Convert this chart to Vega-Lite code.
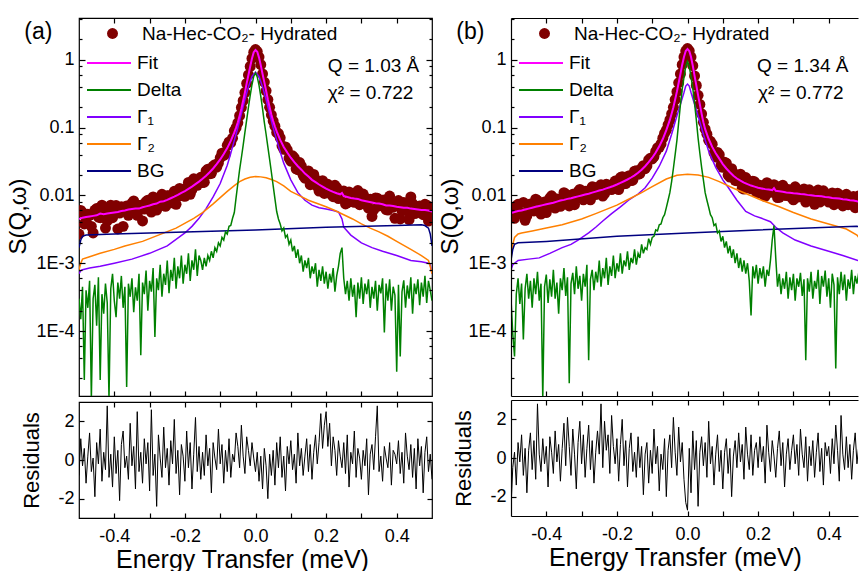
{
"$schema": "https://vega.github.io/schema/vega-lite/v6.json",
"padding": {"left": 6, "top": 16, "right": 0, "bottom": 0},
"config": {
 "font": "Liberation Sans",
 "view": {"stroke": "black", "strokeWidth": 1.2},
 "axis": {"grid": false, "domain": false, "labelFont": "Liberation Sans", "labelFontSize": 18, "labelColor": "black", "titleFont": "Liberation Sans", "titleFontWeight": "normal", "titleColor": "black", "tickColor": "black", "tickWidth": 1.2, "domainColor": "black", "domainWidth": 1.2, "labelPadding": 5},
 "legend": {"labelFont": "Liberation Sans", "labelFontSize": 19, "labelColor": "black", "labelLimit": 500, "padding": 0, "offset": 0}
},
"datasets": {
"pts": [
{"p":"a","x":-0.5,"y":0.0027},{"p":"a","x":-0.49,"y":0.0056},{"p":"a","x":-0.48,"y":0.0041},{"p":"a","x":-0.47,"y":0.0051},{"p":"a","x":-0.46,"y":0.0028},{"p":"a","x":-0.45,"y":0.0064},{"p":"a","x":-0.44,"y":0.0047},{"p":"a","x":-0.43,"y":0.0058},{"p":"a","x":-0.42,"y":0.0042},{"p":"a","x":-0.41,"y":0.0072},
{"p":"a","x":-0.4,"y":0.0053},{"p":"a","x":-0.39,"y":0.0032},{"p":"a","x":-0.38,"y":0.0068},{"p":"a","x":-0.37,"y":0.006},{"p":"a","x":-0.36,"y":0.0051},{"p":"a","x":-0.35,"y":0.0077},{"p":"a","x":-0.34,"y":0.0056},{"p":"a","x":-0.33,"y":0.0071},{"p":"a","x":-0.32,"y":0.0042},{"p":"a","x":-0.31,"y":0.0081},
{"p":"a","x":-0.3,"y":0.0065},{"p":"a","x":-0.29,"y":0.0095},{"p":"a","x":-0.28,"y":0.0061},{"p":"a","x":-0.27,"y":0.0083},{"p":"a","x":-0.26,"y":0.0074},{"p":"a","x":-0.25,"y":0.0099},{"p":"a","x":-0.24,"y":0.0078},{"p":"a","x":-0.23,"y":0.0115},{"p":"a","x":-0.22,"y":0.0097},{"p":"a","x":-0.21,"y":0.012},
{"p":"a","x":-0.2,"y":0.0097},{"p":"a","x":-0.19,"y":0.0156},{"p":"a","x":-0.18,"y":0.0122},{"p":"a","x":-0.17,"y":0.0165},{"p":"a","x":-0.16,"y":0.016},{"p":"a","x":-0.15,"y":0.0155},{"p":"a","x":-0.14,"y":0.023},{"p":"a","x":-0.13,"y":0.0209},{"p":"a","x":-0.12,"y":0.027},{"p":"a","x":-0.11,"y":0.0261},
{"p":"a","x":-0.1,"y":0.0357},{"p":"a","x":-0.09,"y":0.039},{"p":"a","x":-0.08,"y":0.055},{"p":"a","x":-0.07,"y":0.06},{"p":"a","x":-0.06,"y":0.09},{"p":"a","x":-0.055,"y":0.1},{"p":"a","x":-0.05,"y":0.118},{"p":"a","x":-0.045,"y":0.15},{"p":"a","x":-0.04,"y":0.198},{"p":"a","x":-0.035,"y":0.25},
{"p":"a","x":-0.03,"y":0.33},{"p":"a","x":-0.025,"y":0.45},{"p":"a","x":-0.02,"y":0.6},{"p":"a","x":-0.015,"y":0.8},{"p":"a","x":-0.01,"y":1.05},{"p":"a","x":-0.005,"y":1.3},{"p":"a","x":0,"y":1.42},{"p":"a","x":0.005,"y":1.33},{"p":"a","x":0.01,"y":1.1},{"p":"a","x":0.015,"y":0.85},
{"p":"a","x":0.02,"y":0.62},{"p":"a","x":0.025,"y":0.47},{"p":"a","x":0.03,"y":0.35},{"p":"a","x":0.035,"y":0.26},{"p":"a","x":0.04,"y":0.2},{"p":"a","x":0.045,"y":0.155},{"p":"a","x":0.05,"y":0.125},{"p":"a","x":0.055,"y":0.105},{"p":"a","x":0.06,"y":0.085},{"p":"a","x":0.07,"y":0.071},
{"p":"a","x":0.08,"y":0.048},{"p":"a","x":0.09,"y":0.047},{"p":"a","x":0.1,"y":0.032},{"p":"a","x":0.11,"y":0.036},{"p":"a","x":0.12,"y":0.024},{"p":"a","x":0.13,"y":0.027},{"p":"a","x":0.14,"y":0.018},{"p":"a","x":0.15,"y":0.023},{"p":"a","x":0.16,"y":0.0156},{"p":"a","x":0.17,"y":0.0173},
{"p":"a","x":0.18,"y":0.0116},{"p":"a","x":0.19,"y":0.0165},{"p":"a","x":0.2,"y":0.0113},{"p":"a","x":0.21,"y":0.0137},{"p":"a","x":0.22,"y":0.0096},{"p":"a","x":0.23,"y":0.013},{"p":"a","x":0.24,"y":0.0099},{"p":"a","x":0.25,"y":0.0116},{"p":"a","x":0.26,"y":0.0078},{"p":"a","x":0.27,"y":0.0101},
{"p":"a","x":0.28,"y":0.0079},{"p":"a","x":0.29,"y":0.0118},{"p":"a","x":0.3,"y":0.0077},{"p":"a","x":0.31,"y":0.0093},{"p":"a","x":0.32,"y":0.0065},{"p":"a","x":0.33,"y":0.0049},{"p":"a","x":0.34,"y":0.0092},{"p":"a","x":0.35,"y":0.007},{"p":"a","x":0.36,"y":0.0085},{"p":"a","x":0.37,"y":0.0062},
{"p":"a","x":0.38,"y":0.0098},{"p":"a","x":0.39,"y":0.0067},{"p":"a","x":0.4,"y":0.0075},{"p":"a","x":0.41,"y":0.0045},{"p":"a","x":0.42,"y":0.0079},{"p":"a","x":0.43,"y":0.0059},{"p":"a","x":0.44,"y":0.0095},{"p":"a","x":0.45,"y":0.0054},{"p":"a","x":0.46,"y":0.0068},{"p":"a","x":0.47,"y":0.0058},
{"p":"a","x":0.48,"y":0.0074},{"p":"a","x":0.49,"y":0.0042},{"p":"a","x":0.5,"y":0.0067},
{"p":"a","x":-0.495,"y":0.006},{"p":"a","x":-0.485,"y":0.0038},{"p":"a","x":-0.475,"y":0.0053},{"p":"a","x":-0.465,"y":0.0035},{"p":"a","x":-0.455,"y":0.0061},{"p":"a","x":-0.445,"y":0.0048},{"p":"a","x":-0.435,"y":0.0072},{"p":"a","x":-0.425,"y":0.0033},{"p":"a","x":-0.415,"y":0.0057},{"p":"a","x":-0.405,"y":0.0047},
{"p":"a","x":-0.395,"y":0.0071},{"p":"a","x":-0.385,"y":0.0055},{"p":"a","x":-0.375,"y":0.0035},{"p":"a","x":-0.365,"y":0.007},{"p":"a","x":-0.355,"y":0.0055},{"p":"a","x":-0.345,"y":0.0083},{"p":"a","x":-0.335,"y":0.0051},{"p":"a","x":-0.325,"y":0.0072},{"p":"a","x":-0.315,"y":0.0063},{"p":"a","x":-0.305,"y":0.0085},
{"p":"a","x":-0.295,"y":0.0057},{"p":"a","x":-0.285,"y":0.0079},{"p":"a","x":-0.275,"y":0.007},{"p":"a","x":-0.265,"y":0.0104},{"p":"a","x":-0.255,"y":0.0069},{"p":"a","x":-0.245,"y":0.0099},{"p":"a","x":-0.235,"y":0.0089},{"p":"a","x":-0.225,"y":0.0074},{"p":"a","x":-0.215,"y":0.0127},{"p":"a","x":-0.205,"y":0.0099},
{"p":"a","x":-0.195,"y":0.013},{"p":"a","x":-0.185,"y":0.0104},{"p":"a","x":-0.175,"y":0.0176},{"p":"a","x":-0.165,"y":0.0141},{"p":"a","x":-0.155,"y":0.0185},{"p":"a","x":-0.145,"y":0.0157},{"p":"a","x":-0.135,"y":0.0244},{"p":"a","x":-0.125,"y":0.0212},{"p":"a","x":-0.115,"y":0.0284},{"p":"a","x":-0.105,"y":0.03},
{"p":"a","x":-0.095,"y":0.042},{"p":"a","x":-0.085,"y":0.041},{"p":"a","x":-0.075,"y":0.0616},{"p":"a","x":-0.065,"y":0.07},
{"p":"a","x":0.065,"y":0.082},{"p":"a","x":0.075,"y":0.054},{"p":"a","x":0.085,"y":0.052},{"p":"a","x":0.095,"y":0.0356},{"p":"a","x":0.105,"y":0.0385},{"p":"a","x":0.115,"y":0.0247},{"p":"a","x":0.125,"y":0.0306},{"p":"a","x":0.135,"y":0.0198},{"p":"a","x":0.145,"y":0.022},{"p":"a","x":0.155,"y":0.0144},
{"p":"a","x":0.165,"y":0.0204},{"p":"a","x":0.175,"y":0.0136},{"p":"a","x":0.185,"y":0.0161},{"p":"a","x":0.195,"y":0.0107},{"p":"a","x":0.205,"y":0.0146},{"p":"a","x":0.215,"y":0.0104},{"p":"a","x":0.225,"y":0.0141},{"p":"a","x":0.235,"y":0.009},{"p":"a","x":0.245,"y":0.0113},{"p":"a","x":0.255,"y":0.0075},
{"p":"a","x":0.265,"y":0.0113},{"p":"a","x":0.275,"y":0.0084},{"p":"a","x":0.285,"y":0.0102},{"p":"a","x":0.295,"y":0.0073},{"p":"a","x":0.305,"y":0.0105},{"p":"a","x":0.315,"y":0.0074},{"p":"a","x":0.325,"y":0.0088},{"p":"a","x":0.335,"y":0.0062},{"p":"a","x":0.345,"y":0.0091},{"p":"a","x":0.355,"y":0.0071},
{"p":"a","x":0.365,"y":0.0086},{"p":"a","x":0.375,"y":0.0061},{"p":"a","x":0.385,"y":0.0078},{"p":"a","x":0.395,"y":0.0046},{"p":"a","x":0.405,"y":0.0084},{"p":"a","x":0.415,"y":0.0059},{"p":"a","x":0.425,"y":0.0072},{"p":"a","x":0.435,"y":0.0044},{"p":"a","x":0.445,"y":0.0076},{"p":"a","x":0.455,"y":0.0055},
{"p":"a","x":0.465,"y":0.007},{"p":"a","x":0.475,"y":0.0052},{"p":"a","x":0.485,"y":0.0072},{"p":"a","x":0.495,"y":0.0053},
{"p":"b","x":-0.5,"y":0.0063},{"p":"b","x":-0.49,"y":0.0046},{"p":"b","x":-0.48,"y":0.0074},{"p":"b","x":-0.47,"y":0.0054},{"p":"b","x":-0.46,"y":0.0043},{"p":"b","x":-0.45,"y":0.007},{"p":"b","x":-0.44,"y":0.0063},{"p":"b","x":-0.43,"y":0.0088},{"p":"b","x":-0.42,"y":0.006},{"p":"b","x":-0.41,"y":0.0076},
{"p":"b","x":-0.4,"y":0.0056},{"p":"b","x":-0.39,"y":0.0091},{"p":"b","x":-0.38,"y":0.0072},{"p":"b","x":-0.37,"y":0.0089},{"p":"b","x":-0.36,"y":0.0069},{"p":"b","x":-0.35,"y":0.011},{"p":"b","x":-0.34,"y":0.008},{"p":"b","x":-0.33,"y":0.0091},{"p":"b","x":-0.32,"y":0.0073},{"p":"b","x":-0.31,"y":0.0114},
{"p":"b","x":-0.3,"y":0.0095},{"p":"b","x":-0.29,"y":0.0115},{"p":"b","x":-0.28,"y":0.009},{"p":"b","x":-0.27,"y":0.0134},{"p":"b","x":-0.26,"y":0.0103},{"p":"b","x":-0.25,"y":0.0124},{"p":"b","x":-0.24,"y":0.0098},{"p":"b","x":-0.23,"y":0.0146},{"p":"b","x":-0.22,"y":0.0125},{"p":"b","x":-0.21,"y":0.0149},
{"p":"b","x":-0.2,"y":0.0128},{"p":"b","x":-0.19,"y":0.0184},{"p":"b","x":-0.18,"y":0.0149},{"p":"b","x":-0.17,"y":0.0189},{"p":"b","x":-0.16,"y":0.0166},{"p":"b","x":-0.15,"y":0.0228},{"p":"b","x":-0.14,"y":0.0205},{"p":"b","x":-0.13,"y":0.0252},{"p":"b","x":-0.12,"y":0.0248},{"p":"b","x":-0.11,"y":0.0335},
{"p":"b","x":-0.1,"y":0.0346},{"p":"b","x":-0.09,"y":0.0447},{"p":"b","x":-0.08,"y":0.0514},{"p":"b","x":-0.07,"y":0.07},{"p":"b","x":-0.06,"y":0.092},{"p":"b","x":-0.055,"y":0.11},{"p":"b","x":-0.05,"y":0.13},{"p":"b","x":-0.045,"y":0.16},{"p":"b","x":-0.04,"y":0.2},{"p":"b","x":-0.035,"y":0.26},
{"p":"b","x":-0.03,"y":0.34},{"p":"b","x":-0.025,"y":0.46},{"p":"b","x":-0.02,"y":0.62},{"p":"b","x":-0.015,"y":0.85},{"p":"b","x":-0.01,"y":1.1},{"p":"b","x":-0.005,"y":1.35},{"p":"b","x":0,"y":1.47},{"p":"b","x":0.005,"y":1.36},{"p":"b","x":0.01,"y":1.1},{"p":"b","x":0.015,"y":0.82},
{"p":"b","x":0.02,"y":0.58},{"p":"b","x":0.025,"y":0.42},{"p":"b","x":0.03,"y":0.3},{"p":"b","x":0.035,"y":0.22},{"p":"b","x":0.04,"y":0.16},{"p":"b","x":0.045,"y":0.12},{"p":"b","x":0.05,"y":0.095},{"p":"b","x":0.055,"y":0.08},{"p":"b","x":0.06,"y":0.065},{"p":"b","x":0.07,"y":0.057},
{"p":"b","x":0.08,"y":0.037},{"p":"b","x":0.09,"y":0.04},{"p":"b","x":0.1,"y":0.026},{"p":"b","x":0.11,"y":0.03},{"p":"b","x":0.12,"y":0.0187},{"p":"b","x":0.13,"y":0.0215},{"p":"b","x":0.14,"y":0.0164},{"p":"b","x":0.15,"y":0.0206},{"p":"b","x":0.16,"y":0.0124},{"p":"b","x":0.17,"y":0.0165},
{"p":"b","x":0.18,"y":0.0126},{"p":"b","x":0.19,"y":0.0159},{"p":"b","x":0.2,"y":0.011},{"p":"b","x":0.21,"y":0.0133},{"p":"b","x":0.22,"y":0.0097},{"p":"b","x":0.23,"y":0.0146},{"p":"b","x":0.24,"y":0.0114},{"p":"b","x":0.25,"y":0.0129},{"p":"b","x":0.26,"y":0.0094},{"p":"b","x":0.27,"y":0.0141},
{"p":"b","x":0.28,"y":0.01},{"p":"b","x":0.29,"y":0.0119},{"p":"b","x":0.3,"y":0.0086},{"p":"b","x":0.31,"y":0.0123},{"p":"b","x":0.32,"y":0.0097},{"p":"b","x":0.33,"y":0.0125},{"p":"b","x":0.34,"y":0.0088},{"p":"b","x":0.35,"y":0.0111},{"p":"b","x":0.36,"y":0.0074},{"p":"b","x":0.37,"y":0.012},
{"p":"b","x":0.38,"y":0.0087},{"p":"b","x":0.39,"y":0.01},{"p":"b","x":0.4,"y":0.008},{"p":"b","x":0.41,"y":0.0109},{"p":"b","x":0.42,"y":0.0086},{"p":"b","x":0.43,"y":0.0099},{"p":"b","x":0.44,"y":0.007},{"p":"b","x":0.45,"y":0.0104},{"p":"b","x":0.46,"y":0.0077},{"p":"b","x":0.47,"y":0.0097},
{"p":"b","x":0.48,"y":0.007},{"p":"b","x":0.49,"y":0.0089},{"p":"b","x":0.5,"y":0.0072},
{"p":"b","x":-0.495,"y":0.0048},{"p":"b","x":-0.485,"y":0.007},{"p":"b","x":-0.475,"y":0.0057},{"p":"b","x":-0.465,"y":0.0079},{"p":"b","x":-0.455,"y":0.005},{"p":"b","x":-0.445,"y":0.0075},{"p":"b","x":-0.435,"y":0.0059},{"p":"b","x":-0.425,"y":0.0084},{"p":"b","x":-0.415,"y":0.0053},{"p":"b","x":-0.405,"y":0.008},
{"p":"b","x":-0.395,"y":0.0068},{"p":"b","x":-0.385,"y":0.0099},{"p":"b","x":-0.375,"y":0.0065},{"p":"b","x":-0.365,"y":0.0087},{"p":"b","x":-0.355,"y":0.0078},{"p":"b","x":-0.345,"y":0.0105},{"p":"b","x":-0.335,"y":0.007},{"p":"b","x":-0.325,"y":0.0104},{"p":"b","x":-0.315,"y":0.0091},{"p":"b","x":-0.305,"y":0.0123},
{"p":"b","x":-0.295,"y":0.0086},{"p":"b","x":-0.285,"y":0.0115},{"p":"b","x":-0.275,"y":0.0086},{"p":"b","x":-0.265,"y":0.0132},{"p":"b","x":-0.255,"y":0.0107},{"p":"b","x":-0.245,"y":0.0144},{"p":"b","x":-0.235,"y":0.0106},{"p":"b","x":-0.225,"y":0.0142},{"p":"b","x":-0.215,"y":0.0122},{"p":"b","x":-0.205,"y":0.0163},
{"p":"b","x":-0.195,"y":0.0122},{"p":"b","x":-0.185,"y":0.0189},{"p":"b","x":-0.175,"y":0.015},{"p":"b","x":-0.165,"y":0.0196},{"p":"b","x":-0.155,"y":0.0168},{"p":"b","x":-0.145,"y":0.0232},{"p":"b","x":-0.135,"y":0.021},{"p":"b","x":-0.125,"y":0.0275},{"p":"b","x":-0.115,"y":0.0273},{"p":"b","x":-0.105,"y":0.0355},
{"p":"b","x":-0.095,"y":0.0375},{"p":"b","x":-0.085,"y":0.0504},{"p":"b","x":-0.075,"y":0.0576},{"p":"b","x":-0.065,"y":0.0824},
{"p":"b","x":0.065,"y":0.063},{"p":"b","x":0.075,"y":0.0423},{"p":"b","x":0.085,"y":0.0431},{"p":"b","x":0.095,"y":0.0282},{"p":"b","x":0.105,"y":0.031},{"p":"b","x":0.115,"y":0.02},{"p":"b","x":0.125,"y":0.0248},{"p":"b","x":0.135,"y":0.0167},{"p":"b","x":0.145,"y":0.0188},{"p":"b","x":0.155,"y":0.0128},
{"p":"b","x":0.165,"y":0.0184},{"p":"b","x":0.175,"y":0.0129},{"p":"b","x":0.185,"y":0.0162},{"p":"b","x":0.195,"y":0.0112},{"p":"b","x":0.205,"y":0.0141},{"p":"b","x":0.215,"y":0.0103},{"p":"b","x":0.225,"y":0.0154},{"p":"b","x":0.235,"y":0.0111},{"p":"b","x":0.245,"y":0.0144},{"p":"b","x":0.255,"y":0.0093},
{"p":"b","x":0.265,"y":0.0137},{"p":"b","x":0.275,"y":0.0101},{"p":"b","x":0.285,"y":0.0123},{"p":"b","x":0.295,"y":0.0093},{"p":"b","x":0.305,"y":0.0134},{"p":"b","x":0.315,"y":0.0095},{"p":"b","x":0.325,"y":0.0114},{"p":"b","x":0.335,"y":0.008},{"p":"b","x":0.345,"y":0.0121},{"p":"b","x":0.355,"y":0.0092},
{"p":"b","x":0.365,"y":0.0113},{"p":"b","x":0.375,"y":0.008},{"p":"b","x":0.385,"y":0.0117},{"p":"b","x":0.395,"y":0.0085},{"p":"b","x":0.405,"y":0.0102},{"p":"b","x":0.415,"y":0.0073},{"p":"b","x":0.425,"y":0.0108},{"p":"b","x":0.435,"y":0.008},{"p":"b","x":0.445,"y":0.01},{"p":"b","x":0.455,"y":0.0073},
{"p":"b","x":0.465,"y":0.0092},{"p":"b","x":0.475,"y":0.0066},{"p":"b","x":0.485,"y":0.0098}
],
"crv": [
{"p":"a","s":"Fit","x":-0.5,"y":0.0045},{"p":"a","s":"Fit","x":-0.49,"y":0.0047},{"p":"a","s":"Fit","x":-0.48,"y":0.0048},{"p":"a","s":"Fit","x":-0.47,"y":0.0049},{"p":"a","s":"Fit","x":-0.46,"y":0.005},{"p":"a","s":"Fit","x":-0.45,"y":0.0051},{"p":"a","s":"Fit","x":-0.44,"y":0.0054},{"p":"a","s":"Fit","x":-0.43,"y":0.0053},{"p":"a","s":"Fit","x":-0.42,"y":0.0054},{"p":"a","s":"Fit","x":-0.41,"y":0.0055},
{"p":"a","s":"Fit","x":-0.4,"y":0.0056},{"p":"a","s":"Fit","x":-0.39,"y":0.0057},{"p":"a","s":"Fit","x":-0.38,"y":0.0059},{"p":"a","s":"Fit","x":-0.37,"y":0.006},{"p":"a","s":"Fit","x":-0.36,"y":0.0062},{"p":"a","s":"Fit","x":-0.35,"y":0.0063},{"p":"a","s":"Fit","x":-0.34,"y":0.0064},{"p":"a","s":"Fit","x":-0.33,"y":0.0064},{"p":"a","s":"Fit","x":-0.32,"y":0.0067},{"p":"a","s":"Fit","x":-0.31,"y":0.0069},
{"p":"a","s":"Fit","x":-0.3,"y":0.0071},{"p":"a","s":"Fit","x":-0.29,"y":0.0074},{"p":"a","s":"Fit","x":-0.28,"y":0.0076},{"p":"a","s":"Fit","x":-0.27,"y":0.0081},{"p":"a","s":"Fit","x":-0.26,"y":0.0082},{"p":"a","s":"Fit","x":-0.25,"y":0.0086},{"p":"a","s":"Fit","x":-0.24,"y":0.0091},{"p":"a","s":"Fit","x":-0.23,"y":0.0096},{"p":"a","s":"Fit","x":-0.22,"y":0.0102},{"p":"a","s":"Fit","x":-0.21,"y":0.0109},
{"p":"a","s":"Fit","x":-0.2,"y":0.0116},{"p":"a","s":"Fit","x":-0.19,"y":0.0125},{"p":"a","s":"Fit","x":-0.18,"y":0.0135},{"p":"a","s":"Fit","x":-0.17,"y":0.0147},{"p":"a","s":"Fit","x":-0.16,"y":0.016},{"p":"a","s":"Fit","x":-0.15,"y":0.0176},{"p":"a","s":"Fit","x":-0.14,"y":0.0195},{"p":"a","s":"Fit","x":-0.13,"y":0.022},{"p":"a","s":"Fit","x":-0.12,"y":0.025},{"p":"a","s":"Fit","x":-0.11,"y":0.029},
{"p":"a","s":"Fit","x":-0.1,"y":0.034},{"p":"a","s":"Fit","x":-0.09,"y":0.041},{"p":"a","s":"Fit","x":-0.08,"y":0.05},{"p":"a","s":"Fit","x":-0.07,"y":0.064},{"p":"a","s":"Fit","x":-0.06,"y":0.085},{"p":"a","s":"Fit","x":-0.055,"y":0.1},{"p":"a","s":"Fit","x":-0.05,"y":0.12},{"p":"a","s":"Fit","x":-0.045,"y":0.15},{"p":"a","s":"Fit","x":-0.04,"y":0.19},{"p":"a","s":"Fit","x":-0.035,"y":0.25},
{"p":"a","s":"Fit","x":-0.03,"y":0.33},{"p":"a","s":"Fit","x":-0.025,"y":0.45},{"p":"a","s":"Fit","x":-0.02,"y":0.6},{"p":"a","s":"Fit","x":-0.015,"y":0.8},{"p":"a","s":"Fit","x":-0.01,"y":1.05},{"p":"a","s":"Fit","x":-0.005,"y":1.3},{"p":"a","s":"Fit","x":0,"y":1.4},{"p":"a","s":"Fit","x":0.005,"y":1.32},{"p":"a","s":"Fit","x":0.01,"y":1.08},{"p":"a","s":"Fit","x":0.015,"y":0.83},
{"p":"a","s":"Fit","x":0.02,"y":0.62},{"p":"a","s":"Fit","x":0.025,"y":0.47},{"p":"a","s":"Fit","x":0.03,"y":0.35},{"p":"a","s":"Fit","x":0.035,"y":0.26},{"p":"a","s":"Fit","x":0.04,"y":0.2},{"p":"a","s":"Fit","x":0.045,"y":0.155},{"p":"a","s":"Fit","x":0.05,"y":0.125},{"p":"a","s":"Fit","x":0.055,"y":0.104},{"p":"a","s":"Fit","x":0.06,"y":0.088},{"p":"a","s":"Fit","x":0.07,"y":0.066},
{"p":"a","s":"Fit","x":0.08,"y":0.052},{"p":"a","s":"Fit","x":0.09,"y":0.043},{"p":"a","s":"Fit","x":0.1,"y":0.036},{"p":"a","s":"Fit","x":0.11,"y":0.031},{"p":"a","s":"Fit","x":0.12,"y":0.027},{"p":"a","s":"Fit","x":0.13,"y":0.024},{"p":"a","s":"Fit","x":0.14,"y":0.021},{"p":"a","s":"Fit","x":0.15,"y":0.019},{"p":"a","s":"Fit","x":0.16,"y":0.017},{"p":"a","s":"Fit","x":0.17,"y":0.0157},
{"p":"a","s":"Fit","x":0.18,"y":0.0145},{"p":"a","s":"Fit","x":0.19,"y":0.0135},{"p":"a","s":"Fit","x":0.2,"y":0.0126},{"p":"a","s":"Fit","x":0.21,"y":0.0119},{"p":"a","s":"Fit","x":0.22,"y":0.0113},{"p":"a","s":"Fit","x":0.23,"y":0.0108},{"p":"a","s":"Fit","x":0.24,"y":0.0104},{"p":"a","s":"Fit","x":0.245,"y":0.0109},{"p":"a","s":"Fit","x":0.25,"y":0.0098},{"p":"a","s":"Fit","x":0.26,"y":0.0095},
{"p":"a","s":"Fit","x":0.27,"y":0.0092},{"p":"a","s":"Fit","x":0.28,"y":0.009},{"p":"a","s":"Fit","x":0.29,"y":0.0089},{"p":"a","s":"Fit","x":0.3,"y":0.0085},{"p":"a","s":"Fit","x":0.31,"y":0.0083},{"p":"a","s":"Fit","x":0.32,"y":0.0081},{"p":"a","s":"Fit","x":0.33,"y":0.0079},{"p":"a","s":"Fit","x":0.34,"y":0.0077},{"p":"a","s":"Fit","x":0.35,"y":0.0076},{"p":"a","s":"Fit","x":0.36,"y":0.0074},
{"p":"a","s":"Fit","x":0.37,"y":0.0071},{"p":"a","s":"Fit","x":0.38,"y":0.0071},{"p":"a","s":"Fit","x":0.39,"y":0.007},{"p":"a","s":"Fit","x":0.4,"y":0.0068},{"p":"a","s":"Fit","x":0.41,"y":0.0067},{"p":"a","s":"Fit","x":0.42,"y":0.0066},{"p":"a","s":"Fit","x":0.43,"y":0.0066},{"p":"a","s":"Fit","x":0.44,"y":0.0064},{"p":"a","s":"Fit","x":0.45,"y":0.0063},{"p":"a","s":"Fit","x":0.46,"y":0.0062},
{"p":"a","s":"Fit","x":0.47,"y":0.0061},{"p":"a","s":"Fit","x":0.48,"y":0.0061},{"p":"a","s":"Fit","x":0.49,"y":0.006},{"p":"a","s":"Fit","x":0.5,"y":0.0058},
{"p":"a","s":"Γ₁","x":-0.5,"y":0.0007},{"p":"a","s":"Γ₁","x":-0.495,"y":0.00078},{"p":"a","s":"Γ₁","x":-0.49,"y":0.0008},{"p":"a","s":"Γ₁","x":-0.47,"y":0.00085},{"p":"a","s":"Γ₁","x":-0.44,"y":0.0009},{"p":"a","s":"Γ₁","x":-0.4,"y":0.001},{"p":"a","s":"Γ₁","x":-0.35,"y":0.00115},{"p":"a","s":"Γ₁","x":-0.3,"y":0.0014},{"p":"a","s":"Γ₁","x":-0.25,"y":0.0018},{"p":"a","s":"Γ₁","x":-0.2,"y":0.0028},
{"p":"a","s":"Γ₁","x":-0.18,"y":0.0035},{"p":"a","s":"Γ₁","x":-0.16,"y":0.0046},{"p":"a","s":"Γ₁","x":-0.14,"y":0.0064},{"p":"a","s":"Γ₁","x":-0.12,"y":0.0095},{"p":"a","s":"Γ₁","x":-0.1,"y":0.015},{"p":"a","s":"Γ₁","x":-0.08,"y":0.028},{"p":"a","s":"Γ₁","x":-0.07,"y":0.042},{"p":"a","s":"Γ₁","x":-0.06,"y":0.065},{"p":"a","s":"Γ₁","x":-0.05,"y":0.1},{"p":"a","s":"Γ₁","x":-0.04,"y":0.16},
{"p":"a","s":"Γ₁","x":-0.03,"y":0.26},{"p":"a","s":"Γ₁","x":-0.02,"y":0.4},{"p":"a","s":"Γ₁","x":-0.01,"y":0.57},{"p":"a","s":"Γ₁","x":0,"y":0.66},{"p":"a","s":"Γ₁","x":0.01,"y":0.57},{"p":"a","s":"Γ₁","x":0.02,"y":0.4},{"p":"a","s":"Γ₁","x":0.03,"y":0.26},{"p":"a","s":"Γ₁","x":0.04,"y":0.16},{"p":"a","s":"Γ₁","x":0.05,"y":0.1},{"p":"a","s":"Γ₁","x":0.06,"y":0.066},
{"p":"a","s":"Γ₁","x":0.07,"y":0.044},{"p":"a","s":"Γ₁","x":0.08,"y":0.03},{"p":"a","s":"Γ₁","x":0.1,"y":0.017},{"p":"a","s":"Γ₁","x":0.12,"y":0.011},{"p":"a","s":"Γ₁","x":0.14,"y":0.0085},{"p":"a","s":"Γ₁","x":0.16,"y":0.0072},{"p":"a","s":"Γ₁","x":0.18,"y":0.0066},{"p":"a","s":"Γ₁","x":0.2,"y":0.0063},{"p":"a","s":"Γ₁","x":0.22,"y":0.006},{"p":"a","s":"Γ₁","x":0.235,"y":0.0057},
{"p":"a","s":"Γ₁","x":0.245,"y":0.0045},{"p":"a","s":"Γ₁","x":0.25,"y":0.0034},{"p":"a","s":"Γ₁","x":0.27,"y":0.0026},{"p":"a","s":"Γ₁","x":0.3,"y":0.002},{"p":"a","s":"Γ₁","x":0.33,"y":0.0017},{"p":"a","s":"Γ₁","x":0.36,"y":0.0015},{"p":"a","s":"Γ₁","x":0.4,"y":0.0013},{"p":"a","s":"Γ₁","x":0.44,"y":0.0011},{"p":"a","s":"Γ₁","x":0.47,"y":0.00105},{"p":"a","s":"Γ₁","x":0.49,"y":0.001},
{"p":"a","s":"Γ₁","x":0.495,"y":0.00095},{"p":"a","s":"Γ₁","x":0.5,"y":0.0007},
{"p":"a","s":"Γ₂","x":-0.5,"y":0.0008},{"p":"a","s":"Γ₂","x":-0.495,"y":0.001},{"p":"a","s":"Γ₂","x":-0.49,"y":0.00115},{"p":"a","s":"Γ₂","x":-0.47,"y":0.00125},{"p":"a","s":"Γ₂","x":-0.44,"y":0.0014},{"p":"a","s":"Γ₂","x":-0.4,"y":0.0016},{"p":"a","s":"Γ₂","x":-0.37,"y":0.0018},{"p":"a","s":"Γ₂","x":-0.32,"y":0.0021},{"p":"a","s":"Γ₂","x":-0.275,"y":0.0026},{"p":"a","s":"Γ₂","x":-0.225,"y":0.0033},
{"p":"a","s":"Γ₂","x":-0.175,"y":0.0046},{"p":"a","s":"Γ₂","x":-0.15,"y":0.0056},{"p":"a","s":"Γ₂","x":-0.12,"y":0.0075},{"p":"a","s":"Γ₂","x":-0.1,"y":0.0093},{"p":"a","s":"Γ₂","x":-0.08,"y":0.0115},{"p":"a","s":"Γ₂","x":-0.06,"y":0.014},{"p":"a","s":"Γ₂","x":-0.045,"y":0.016},{"p":"a","s":"Γ₂","x":-0.03,"y":0.0175},{"p":"a","s":"Γ₂","x":-0.015,"y":0.0186},{"p":"a","s":"Γ₂","x":0,"y":0.019},
{"p":"a","s":"Γ₂","x":0.015,"y":0.0188},{"p":"a","s":"Γ₂","x":0.03,"y":0.0182},{"p":"a","s":"Γ₂","x":0.045,"y":0.0172},{"p":"a","s":"Γ₂","x":0.06,"y":0.016},{"p":"a","s":"Γ₂","x":0.08,"y":0.0138},{"p":"a","s":"Γ₂","x":0.1,"y":0.0115},{"p":"a","s":"Γ₂","x":0.12,"y":0.0102},{"p":"a","s":"Γ₂","x":0.15,"y":0.0085},{"p":"a","s":"Γ₂","x":0.175,"y":0.0076},{"p":"a","s":"Γ₂","x":0.2,"y":0.0068},
{"p":"a","s":"Γ₂","x":0.225,"y":0.006},{"p":"a","s":"Γ₂","x":0.25,"y":0.0052},{"p":"a","s":"Γ₂","x":0.275,"y":0.0045},{"p":"a","s":"Γ₂","x":0.3,"y":0.0038},{"p":"a","s":"Γ₂","x":0.325,"y":0.0033},{"p":"a","s":"Γ₂","x":0.35,"y":0.0029},{"p":"a","s":"Γ₂","x":0.375,"y":0.0025},{"p":"a","s":"Γ₂","x":0.4,"y":0.0021},{"p":"a","s":"Γ₂","x":0.44,"y":0.0016},{"p":"a","s":"Γ₂","x":0.47,"y":0.0013},
{"p":"a","s":"Γ₂","x":0.49,"y":0.0011},{"p":"a","s":"Γ₂","x":0.495,"y":0.0009},{"p":"a","s":"Γ₂","x":0.5,"y":0.0007},
{"p":"a","s":"BG","x":-0.5,"y":0.0017},{"p":"a","s":"BG","x":-0.495,"y":0.0022},{"p":"a","s":"BG","x":-0.49,"y":0.0025},{"p":"a","s":"BG","x":-0.48,"y":0.0026},{"p":"a","s":"BG","x":-0.4,"y":0.0027},{"p":"a","s":"BG","x":-0.2,"y":0.0029},{"p":"a","s":"BG","x":0,"y":0.0031},{"p":"a","s":"BG","x":0.2,"y":0.0034},{"p":"a","s":"BG","x":0.4,"y":0.0036},{"p":"a","s":"BG","x":0.47,"y":0.0037},
{"p":"a","s":"BG","x":0.48,"y":0.0036},{"p":"a","s":"BG","x":0.49,"y":0.0033},{"p":"a","s":"BG","x":0.495,"y":0.0027},{"p":"a","s":"BG","x":0.5,"y":0.0018},
{"p":"b","s":"Fit","x":-0.5,"y":0.0055},{"p":"b","s":"Fit","x":-0.49,"y":0.0057},{"p":"b","s":"Fit","x":-0.48,"y":0.0059},{"p":"b","s":"Fit","x":-0.47,"y":0.006},{"p":"b","s":"Fit","x":-0.46,"y":0.0062},{"p":"b","s":"Fit","x":-0.45,"y":0.0064},{"p":"b","s":"Fit","x":-0.44,"y":0.0066},{"p":"b","s":"Fit","x":-0.43,"y":0.0068},{"p":"b","s":"Fit","x":-0.42,"y":0.007},{"p":"b","s":"Fit","x":-0.41,"y":0.0072},
{"p":"b","s":"Fit","x":-0.4,"y":0.0074},{"p":"b","s":"Fit","x":-0.39,"y":0.0076},{"p":"b","s":"Fit","x":-0.38,"y":0.0078},{"p":"b","s":"Fit","x":-0.37,"y":0.0081},{"p":"b","s":"Fit","x":-0.36,"y":0.0084},{"p":"b","s":"Fit","x":-0.35,"y":0.0086},{"p":"b","s":"Fit","x":-0.34,"y":0.0089},{"p":"b","s":"Fit","x":-0.33,"y":0.0091},{"p":"b","s":"Fit","x":-0.32,"y":0.0094},{"p":"b","s":"Fit","x":-0.31,"y":0.0097},
{"p":"b","s":"Fit","x":-0.3,"y":0.01},{"p":"b","s":"Fit","x":-0.29,"y":0.0103},{"p":"b","s":"Fit","x":-0.28,"y":0.0106},{"p":"b","s":"Fit","x":-0.27,"y":0.011},{"p":"b","s":"Fit","x":-0.26,"y":0.0114},{"p":"b","s":"Fit","x":-0.25,"y":0.0118},{"p":"b","s":"Fit","x":-0.24,"y":0.0122},{"p":"b","s":"Fit","x":-0.23,"y":0.0127},{"p":"b","s":"Fit","x":-0.22,"y":0.0132},{"p":"b","s":"Fit","x":-0.21,"y":0.0138},
{"p":"b","s":"Fit","x":-0.2,"y":0.0145},{"p":"b","s":"Fit","x":-0.19,"y":0.0153},{"p":"b","s":"Fit","x":-0.18,"y":0.0162},{"p":"b","s":"Fit","x":-0.17,"y":0.0172},{"p":"b","s":"Fit","x":-0.16,"y":0.0184},{"p":"b","s":"Fit","x":-0.15,"y":0.0198},{"p":"b","s":"Fit","x":-0.14,"y":0.0216},{"p":"b","s":"Fit","x":-0.13,"y":0.024},{"p":"b","s":"Fit","x":-0.12,"y":0.027},{"p":"b","s":"Fit","x":-0.11,"y":0.031},
{"p":"b","s":"Fit","x":-0.1,"y":0.036},{"p":"b","s":"Fit","x":-0.09,"y":0.043},{"p":"b","s":"Fit","x":-0.08,"y":0.053},{"p":"b","s":"Fit","x":-0.07,"y":0.068},{"p":"b","s":"Fit","x":-0.06,"y":0.092},{"p":"b","s":"Fit","x":-0.05,"y":0.13},{"p":"b","s":"Fit","x":-0.045,"y":0.16},{"p":"b","s":"Fit","x":-0.04,"y":0.2},{"p":"b","s":"Fit","x":-0.035,"y":0.26},{"p":"b","s":"Fit","x":-0.03,"y":0.34},
{"p":"b","s":"Fit","x":-0.025,"y":0.46},{"p":"b","s":"Fit","x":-0.02,"y":0.62},{"p":"b","s":"Fit","x":-0.015,"y":0.85},{"p":"b","s":"Fit","x":-0.01,"y":1.1},{"p":"b","s":"Fit","x":-0.005,"y":1.35},{"p":"b","s":"Fit","x":0,"y":1.45},{"p":"b","s":"Fit","x":0.005,"y":1.35},{"p":"b","s":"Fit","x":0.01,"y":1.1},{"p":"b","s":"Fit","x":0.015,"y":0.82},{"p":"b","s":"Fit","x":0.02,"y":0.58},
{"p":"b","s":"Fit","x":0.025,"y":0.42},{"p":"b","s":"Fit","x":0.03,"y":0.3},{"p":"b","s":"Fit","x":0.035,"y":0.22},{"p":"b","s":"Fit","x":0.04,"y":0.16},{"p":"b","s":"Fit","x":0.045,"y":0.12},{"p":"b","s":"Fit","x":0.05,"y":0.095},{"p":"b","s":"Fit","x":0.06,"y":0.068},{"p":"b","s":"Fit","x":0.07,"y":0.052},{"p":"b","s":"Fit","x":0.08,"y":0.042},{"p":"b","s":"Fit","x":0.09,"y":0.035},
{"p":"b","s":"Fit","x":0.1,"y":0.029},{"p":"b","s":"Fit","x":0.11,"y":0.025},{"p":"b","s":"Fit","x":0.12,"y":0.022},{"p":"b","s":"Fit","x":0.13,"y":0.0195},{"p":"b","s":"Fit","x":0.14,"y":0.0178},{"p":"b","s":"Fit","x":0.15,"y":0.0165},{"p":"b","s":"Fit","x":0.16,"y":0.0155},{"p":"b","s":"Fit","x":0.17,"y":0.0147},{"p":"b","s":"Fit","x":0.18,"y":0.014},{"p":"b","s":"Fit","x":0.19,"y":0.0135},
{"p":"b","s":"Fit","x":0.2,"y":0.013},{"p":"b","s":"Fit","x":0.21,"y":0.0127},{"p":"b","s":"Fit","x":0.22,"y":0.0124},{"p":"b","s":"Fit","x":0.23,"y":0.0122},{"p":"b","s":"Fit","x":0.24,"y":0.012},{"p":"b","s":"Fit","x":0.245,"y":0.0128},{"p":"b","s":"Fit","x":0.25,"y":0.0117},{"p":"b","s":"Fit","x":0.26,"y":0.0115},{"p":"b","s":"Fit","x":0.27,"y":0.0113},{"p":"b","s":"Fit","x":0.28,"y":0.0111},
{"p":"b","s":"Fit","x":0.29,"y":0.011},{"p":"b","s":"Fit","x":0.3,"y":0.0108},{"p":"b","s":"Fit","x":0.31,"y":0.0107},{"p":"b","s":"Fit","x":0.32,"y":0.0105},{"p":"b","s":"Fit","x":0.33,"y":0.0104},{"p":"b","s":"Fit","x":0.34,"y":0.0102},{"p":"b","s":"Fit","x":0.35,"y":0.0101},{"p":"b","s":"Fit","x":0.36,"y":0.0099},{"p":"b","s":"Fit","x":0.37,"y":0.0098},{"p":"b","s":"Fit","x":0.38,"y":0.0097},
{"p":"b","s":"Fit","x":0.39,"y":0.0095},{"p":"b","s":"Fit","x":0.4,"y":0.0094},{"p":"b","s":"Fit","x":0.41,"y":0.0092},{"p":"b","s":"Fit","x":0.42,"y":0.0091},{"p":"b","s":"Fit","x":0.43,"y":0.009},{"p":"b","s":"Fit","x":0.44,"y":0.0088},{"p":"b","s":"Fit","x":0.45,"y":0.0087},{"p":"b","s":"Fit","x":0.46,"y":0.0085},{"p":"b","s":"Fit","x":0.47,"y":0.0084},{"p":"b","s":"Fit","x":0.48,"y":0.0082},
{"p":"b","s":"Fit","x":0.49,"y":0.0081},{"p":"b","s":"Fit","x":0.5,"y":0.008},
{"p":"b","s":"Γ₁","x":-0.5,"y":0.0008},{"p":"b","s":"Γ₁","x":-0.495,"y":0.00095},{"p":"b","s":"Γ₁","x":-0.49,"y":0.001},{"p":"b","s":"Γ₁","x":-0.48,"y":0.0011},{"p":"b","s":"Γ₁","x":-0.45,"y":0.00115},{"p":"b","s":"Γ₁","x":-0.42,"y":0.0012},{"p":"b","s":"Γ₁","x":-0.39,"y":0.0014},{"p":"b","s":"Γ₁","x":-0.355,"y":0.0017},{"p":"b","s":"Γ₁","x":-0.33,"y":0.0019},{"p":"b","s":"Γ₁","x":-0.31,"y":0.0022},
{"p":"b","s":"Γ₁","x":-0.28,"y":0.0028},{"p":"b","s":"Γ₁","x":-0.26,"y":0.0034},{"p":"b","s":"Γ₁","x":-0.24,"y":0.0042},{"p":"b","s":"Γ₁","x":-0.215,"y":0.0054},{"p":"b","s":"Γ₁","x":-0.19,"y":0.0068},{"p":"b","s":"Γ₁","x":-0.167,"y":0.0085},{"p":"b","s":"Γ₁","x":-0.14,"y":0.0105},{"p":"b","s":"Γ₁","x":-0.12,"y":0.013},{"p":"b","s":"Γ₁","x":-0.1,"y":0.018},{"p":"b","s":"Γ₁","x":-0.08,"y":0.027},
{"p":"b","s":"Γ₁","x":-0.06,"y":0.045},{"p":"b","s":"Γ₁","x":-0.045,"y":0.08},{"p":"b","s":"Γ₁","x":-0.03,"y":0.15},{"p":"b","s":"Γ₁","x":-0.017,"y":0.25},{"p":"b","s":"Γ₁","x":-0.01,"y":0.33},{"p":"b","s":"Γ₁","x":-0.005,"y":0.41},{"p":"b","s":"Γ₁","x":0,"y":0.44},{"p":"b","s":"Γ₁","x":0.005,"y":0.41},{"p":"b","s":"Γ₁","x":0.01,"y":0.33},{"p":"b","s":"Γ₁","x":0.017,"y":0.25},
{"p":"b","s":"Γ₁","x":0.03,"y":0.15},{"p":"b","s":"Γ₁","x":0.045,"y":0.08},{"p":"b","s":"Γ₁","x":0.06,"y":0.045},{"p":"b","s":"Γ₁","x":0.08,"y":0.026},{"p":"b","s":"Γ₁","x":0.1,"y":0.017},{"p":"b","s":"Γ₁","x":0.116,"y":0.013},{"p":"b","s":"Γ₁","x":0.14,"y":0.0085},{"p":"b","s":"Γ₁","x":0.165,"y":0.0058},{"p":"b","s":"Γ₁","x":0.19,"y":0.005},{"p":"b","s":"Γ₁","x":0.21,"y":0.0046},
{"p":"b","s":"Γ₁","x":0.235,"y":0.0041},{"p":"b","s":"Γ₁","x":0.25,"y":0.0034},{"p":"b","s":"Γ₁","x":0.27,"y":0.0028},{"p":"b","s":"Γ₁","x":0.305,"y":0.0022},{"p":"b","s":"Γ₁","x":0.35,"y":0.0018},{"p":"b","s":"Γ₁","x":0.4,"y":0.0015},{"p":"b","s":"Γ₁","x":0.44,"y":0.0013},{"p":"b","s":"Γ₁","x":0.483,"y":0.0011},{"p":"b","s":"Γ₁","x":0.5,"y":0.001},
{"p":"b","s":"Γ₂","x":-0.5,"y":0.0012},{"p":"b","s":"Γ₂","x":-0.495,"y":0.0019},{"p":"b","s":"Γ₂","x":-0.49,"y":0.0024},{"p":"b","s":"Γ₂","x":-0.48,"y":0.0027},{"p":"b","s":"Γ₂","x":-0.47,"y":0.0028},{"p":"b","s":"Γ₂","x":-0.44,"y":0.003},{"p":"b","s":"Γ₂","x":-0.4,"y":0.0033},{"p":"b","s":"Γ₂","x":-0.355,"y":0.0037},{"p":"b","s":"Γ₂","x":-0.3,"y":0.0045},{"p":"b","s":"Γ₂","x":-0.26,"y":0.0054},
{"p":"b","s":"Γ₂","x":-0.2,"y":0.0072},{"p":"b","s":"Γ₂","x":-0.167,"y":0.0088},{"p":"b","s":"Γ₂","x":-0.13,"y":0.011},{"p":"b","s":"Γ₂","x":-0.1,"y":0.0135},{"p":"b","s":"Γ₂","x":-0.06,"y":0.0175},{"p":"b","s":"Γ₂","x":-0.03,"y":0.0198},{"p":"b","s":"Γ₂","x":0,"y":0.0205},{"p":"b","s":"Γ₂","x":0.03,"y":0.02},{"p":"b","s":"Γ₂","x":0.06,"y":0.0185},{"p":"b","s":"Γ₂","x":0.09,"y":0.016},
{"p":"b","s":"Γ₂","x":0.13,"y":0.0128},{"p":"b","s":"Γ₂","x":0.165,"y":0.0107},{"p":"b","s":"Γ₂","x":0.21,"y":0.0085},{"p":"b","s":"Γ₂","x":0.26,"y":0.0068},{"p":"b","s":"Γ₂","x":0.3,"y":0.0056},{"p":"b","s":"Γ₂","x":0.35,"y":0.0045},{"p":"b","s":"Γ₂","x":0.4,"y":0.0038},{"p":"b","s":"Γ₂","x":0.45,"y":0.0032},{"p":"b","s":"Γ₂","x":0.48,"y":0.0026},{"p":"b","s":"Γ₂","x":0.49,"y":0.0022},
{"p":"b","s":"Γ₂","x":0.5,"y":0.0015},
{"p":"b","s":"BG","x":-0.5,"y":0.0011},{"p":"b","s":"BG","x":-0.495,"y":0.0016},{"p":"b","s":"BG","x":-0.49,"y":0.0019},{"p":"b","s":"BG","x":-0.48,"y":0.002},{"p":"b","s":"BG","x":-0.4,"y":0.0021},{"p":"b","s":"BG","x":-0.2,"y":0.0025},{"p":"b","s":"BG","x":0,"y":0.0028},{"p":"b","s":"BG","x":0.2,"y":0.0031},{"p":"b","s":"BG","x":0.4,"y":0.0034},{"p":"b","s":"BG","x":0.48,"y":0.0035},
{"p":"b","s":"BG","x":0.5,"y":0.0034}
],
"dlt": [
{"p":"a","x":-0.5,"y":0.0003},{"p":"a","x":-0.495,"y":0.00015},{"p":"a","x":-0.49,"y":0.00045},{"p":"a","x":-0.485,"y":0.000019},{"p":"a","x":-0.48,"y":0.0004},{"p":"a","x":-0.475,"y":0.00022},{"p":"a","x":-0.47,"y":0.00055},{"p":"a","x":-0.465,"y":0.00001},{"p":"a","x":-0.46,"y":0.0003},{"p":"a","x":-0.455,"y":0.00048},
{"p":"a","x":-0.45,"y":0.00012},{"p":"a","x":-0.445,"y":0.00062},{"p":"a","x":-0.44,"y":0.000019},{"p":"a","x":-0.435,"y":0.00035},{"p":"a","x":-0.43,"y":0.00018},{"p":"a","x":-0.425,"y":0.0005},{"p":"a","x":-0.42,"y":0.00026},{"p":"a","x":-0.415,"y":0.00001},{"p":"a","x":-0.41,"y":0.00042},{"p":"a","x":-0.405,"y":0.0007},
{"p":"a","x":-0.4,"y":0.00028},{"p":"a","x":-0.395,"y":0.00016},{"p":"a","x":-0.39,"y":0.00052},{"p":"a","x":-0.385,"y":0.0003},{"p":"a","x":-0.38,"y":0.00065},{"p":"a","x":-0.375,"y":0.00022},{"p":"a","x":-0.37,"y":0.00045},{"p":"a","x":-0.365,"y":0.000015},{"p":"a","x":-0.36,"y":0.0005},{"p":"a","x":-0.355,"y":0.00032},
{"p":"a","x":-0.35,"y":0.0006},{"p":"a","x":-0.345,"y":0.00019},{"p":"a","x":-0.34,"y":0.00044},{"p":"a","x":-0.335,"y":0.00028},{"p":"a","x":-0.33,"y":0.0007},{"p":"a","x":-0.325,"y":0.000044},{"p":"a","x":-0.32,"y":0.00052},{"p":"a","x":-0.315,"y":0.00035},{"p":"a","x":-0.31,"y":0.00078},{"p":"a","x":-0.305,"y":0.0002},
{"p":"a","x":-0.3,"y":0.00055},{"p":"a","x":-0.295,"y":0.00038},{"p":"a","x":-0.29,"y":0.00085},{"p":"a","x":-0.285,"y":0.000082},{"p":"a","x":-0.28,"y":0.0006},{"p":"a","x":-0.275,"y":0.0004},{"p":"a","x":-0.27,"y":0.00095},{"p":"a","x":-0.265,"y":0.00032},{"p":"a","x":-0.26,"y":0.0007},{"p":"a","x":-0.255,"y":0.00048},
{"p":"a","x":-0.25,"y":0.0011},{"p":"a","x":-0.245,"y":0.00036},{"p":"a","x":-0.24,"y":0.0008},{"p":"a","x":-0.235,"y":0.00055},{"p":"a","x":-0.23,"y":0.0012},{"p":"a","x":-0.225,"y":0.00042},{"p":"a","x":-0.22,"y":0.0009},{"p":"a","x":-0.215,"y":0.0006},{"p":"a","x":-0.21,"y":0.0013},{"p":"a","x":-0.205,"y":0.0005},
{"p":"a","x":-0.2,"y":0.00095},{"p":"a","x":-0.195,"y":0.0007},{"p":"a","x":-0.19,"y":0.0014},{"p":"a","x":-0.185,"y":0.00055},{"p":"a","x":-0.18,"y":0.0011},{"p":"a","x":-0.175,"y":0.0008},{"p":"a","x":-0.17,"y":0.0016},{"p":"a","x":-0.165,"y":0.00065},{"p":"a","x":-0.16,"y":0.0013},{"p":"a","x":-0.155,"y":0.0011},
{"p":"a","x":-0.15,"y":0.0008},{"p":"a","x":-0.145,"y":0.0012},{"p":"a","x":-0.14,"y":0.0009},{"p":"a","x":-0.135,"y":0.0013},{"p":"a","x":-0.13,"y":0.0011},{"p":"a","x":-0.125,"y":0.0015},{"p":"a","x":-0.12,"y":0.0012},{"p":"a","x":-0.115,"y":0.0017},{"p":"a","x":-0.11,"y":0.0015},{"p":"a","x":-0.105,"y":0.002},
{"p":"a","x":-0.1,"y":0.0018},{"p":"a","x":-0.095,"y":0.0024},{"p":"a","x":-0.09,"y":0.0022},{"p":"a","x":-0.085,"y":0.0029},{"p":"a","x":-0.08,"y":0.0027},{"p":"a","x":-0.075,"y":0.0035},{"p":"a","x":-0.07,"y":0.0036},{"p":"a","x":-0.065,"y":0.0046},{"p":"a","x":-0.06,"y":0.0056},{"p":"a","x":-0.055,"y":0.0093},
{"p":"a","x":-0.05,"y":0.015},{"p":"a","x":-0.045,"y":0.024},{"p":"a","x":-0.04,"y":0.036},{"p":"a","x":-0.035,"y":0.055},{"p":"a","x":-0.03,"y":0.085},{"p":"a","x":-0.025,"y":0.13},{"p":"a","x":-0.02,"y":0.2},{"p":"a","x":-0.015,"y":0.3},{"p":"a","x":-0.01,"y":0.43},{"p":"a","x":-0.005,"y":0.57},
{"p":"a","x":0,"y":0.64},{"p":"a","x":0.005,"y":0.56},{"p":"a","x":0.01,"y":0.42},{"p":"a","x":0.015,"y":0.29},{"p":"a","x":0.02,"y":0.19},{"p":"a","x":0.025,"y":0.12},{"p":"a","x":0.03,"y":0.08},{"p":"a","x":0.035,"y":0.052},{"p":"a","x":0.04,"y":0.034},{"p":"a","x":0.045,"y":0.022},
{"p":"a","x":0.05,"y":0.014},{"p":"a","x":0.055,"y":0.009},{"p":"a","x":0.06,"y":0.0058},{"p":"a","x":0.065,"y":0.0045},{"p":"a","x":0.07,"y":0.0038},{"p":"a","x":0.075,"y":0.003},{"p":"a","x":0.08,"y":0.0033},{"p":"a","x":0.085,"y":0.0024},{"p":"a","x":0.09,"y":0.0026},{"p":"a","x":0.095,"y":0.0019},
{"p":"a","x":0.1,"y":0.0022},{"p":"a","x":0.105,"y":0.0015},{"p":"a","x":0.11,"y":0.0018},{"p":"a","x":0.115,"y":0.0012},{"p":"a","x":0.12,"y":0.0016},{"p":"a","x":0.125,"y":0.001},{"p":"a","x":0.13,"y":0.0013},{"p":"a","x":0.135,"y":0.00075},{"p":"a","x":0.14,"y":0.0011},{"p":"a","x":0.145,"y":0.00085},
{"p":"a","x":0.15,"y":0.0012},{"p":"a","x":0.155,"y":0.0006},{"p":"a","x":0.16,"y":0.0009},{"p":"a","x":0.165,"y":0.0007},{"p":"a","x":0.17,"y":0.001},{"p":"a","x":0.175,"y":0.00045},{"p":"a","x":0.18,"y":0.0008},{"p":"a","x":0.185,"y":0.00055},{"p":"a","x":0.19,"y":0.0009},{"p":"a","x":0.195,"y":0.0005},
{"p":"a","x":0.2,"y":0.00075},{"p":"a","x":0.205,"y":0.00042},{"p":"a","x":0.21,"y":0.0007},{"p":"a","x":0.215,"y":0.00052},{"p":"a","x":0.22,"y":0.00085},{"p":"a","x":0.225,"y":0.00038},{"p":"a","x":0.23,"y":0.00065},{"p":"a","x":0.235,"y":0.0009},{"p":"a","x":0.24,"y":0.0014},{"p":"a","x":0.245,"y":0.0017},
{"p":"a","x":0.25,"y":0.0006},{"p":"a","x":0.255,"y":0.00035},{"p":"a","x":0.26,"y":0.00055},{"p":"a","x":0.265,"y":0.00028},{"p":"a","x":0.27,"y":0.0006},{"p":"a","x":0.275,"y":0.00032},{"p":"a","x":0.28,"y":0.00048},{"p":"a","x":0.285,"y":0.00016},{"p":"a","x":0.29,"y":0.00052},{"p":"a","x":0.295,"y":0.0003},
{"p":"a","x":0.3,"y":0.00062},{"p":"a","x":0.305,"y":0.00025},{"p":"a","x":0.31,"y":0.0005},{"p":"a","x":0.315,"y":0.00035},{"p":"a","x":0.32,"y":0.00058},{"p":"a","x":0.325,"y":0.00022},{"p":"a","x":0.33,"y":0.00045},{"p":"a","x":0.335,"y":0.0003},{"p":"a","x":0.34,"y":0.00055},{"p":"a","x":0.345,"y":0.0002},
{"p":"a","x":0.35,"y":0.00048},{"p":"a","x":0.355,"y":0.00036},{"p":"a","x":0.36,"y":0.0006},{"p":"a","x":0.365,"y":0.000095},{"p":"a","x":0.37,"y":0.0005},{"p":"a","x":0.375,"y":0.00028},{"p":"a","x":0.38,"y":0.00058},{"p":"a","x":0.385,"y":0.0002},{"p":"a","x":0.39,"y":0.00045},{"p":"a","x":0.395,"y":0.00034},
{"p":"a","x":0.4,"y":0.000025},{"p":"a","x":0.405,"y":0.00048},{"p":"a","x":0.41,"y":0.000042},{"p":"a","x":0.415,"y":0.00038},{"p":"a","x":0.42,"y":0.00056},{"p":"a","x":0.425,"y":0.00022},{"p":"a","x":0.43,"y":0.00047},{"p":"a","x":0.435,"y":0.0003},{"p":"a","x":0.44,"y":0.00062},{"p":"a","x":0.445,"y":0.00018},
{"p":"a","x":0.45,"y":0.0005},{"p":"a","x":0.455,"y":0.00035},{"p":"a","x":0.46,"y":0.00058},{"p":"a","x":0.465,"y":0.00024},{"p":"a","x":0.47,"y":0.00052},{"p":"a","x":0.475,"y":0.00032},{"p":"a","x":0.48,"y":0.00065},{"p":"a","x":0.485,"y":0.00026},{"p":"a","x":0.49,"y":0.00055},{"p":"a","x":0.495,"y":0.0004},
{"p":"a","x":0.5,"y":0.00028},
{"p":"b","x":-0.5,"y":0.0003},{"p":"b","x":-0.495,"y":0.00009},{"p":"b","x":-0.49,"y":0.000042},{"p":"b","x":-0.485,"y":0.00035},{"p":"b","x":-0.48,"y":0.0006},{"p":"b","x":-0.475,"y":0.00025},{"p":"b","x":-0.47,"y":0.0005},{"p":"b","x":-0.465,"y":0.000075},{"p":"b","x":-0.46,"y":0.00042},{"p":"b","x":-0.455,"y":0.0007},
{"p":"b","x":-0.45,"y":0.0003},{"p":"b","x":-0.445,"y":0.00055},{"p":"b","x":-0.44,"y":0.00022},{"p":"b","x":-0.435,"y":0.0006},{"p":"b","x":-0.43,"y":0.00035},{"p":"b","x":-0.425,"y":0.00075},{"p":"b","x":-0.42,"y":0.00028},{"p":"b","x":-0.415,"y":0.0005},{"p":"b","x":-0.41,"y":0.00001},{"p":"b","x":-0.405,"y":0.00045},
{"p":"b","x":-0.4,"y":0.00068},{"p":"b","x":-0.395,"y":0.00026},{"p":"b","x":-0.39,"y":0.00058},{"p":"b","x":-0.385,"y":0.00032},{"p":"b","x":-0.38,"y":0.0008},{"p":"b","x":-0.375,"y":0.0003},{"p":"b","x":-0.37,"y":0.00052},{"p":"b","x":-0.365,"y":0.00018},{"p":"b","x":-0.36,"y":0.0006},{"p":"b","x":-0.355,"y":0.0004},
{"p":"b","x":-0.35,"y":0.00085},{"p":"b","x":-0.345,"y":0.00033},{"p":"b","x":-0.34,"y":0.00062},{"p":"b","x":-0.335,"y":0.000017},{"p":"b","x":-0.33,"y":0.0005},{"p":"b","x":-0.325,"y":0.00072},{"p":"b","x":-0.32,"y":0.00035},{"p":"b","x":-0.315,"y":0.0009},{"p":"b","x":-0.31,"y":0.00042},{"p":"b","x":-0.305,"y":0.00065},
{"p":"b","x":-0.3,"y":0.00028},{"p":"b","x":-0.295,"y":0.0007},{"p":"b","x":-0.29,"y":0.00045},{"p":"b","x":-0.285,"y":0.00095},{"p":"b","x":-0.28,"y":0.000037},{"p":"b","x":-0.275,"y":0.00058},{"p":"b","x":-0.27,"y":0.0008},{"p":"b","x":-0.265,"y":0.0004},{"p":"b","x":-0.26,"y":0.00075},{"p":"b","x":-0.255,"y":0.00052},
{"p":"b","x":-0.25,"y":0.0011},{"p":"b","x":-0.245,"y":0.00045},{"p":"b","x":-0.24,"y":0.00085},{"p":"b","x":-0.235,"y":0.0006},{"p":"b","x":-0.23,"y":0.0012},{"p":"b","x":-0.225,"y":0.00048},{"p":"b","x":-0.22,"y":0.0009},{"p":"b","x":-0.215,"y":0.00065},{"p":"b","x":-0.21,"y":0.0013},{"p":"b","x":-0.205,"y":0.0006},
{"p":"b","x":-0.2,"y":0.001},{"p":"b","x":-0.195,"y":0.00075},{"p":"b","x":-0.19,"y":0.0014},{"p":"b","x":-0.185,"y":0.0007},{"p":"b","x":-0.18,"y":0.0011},{"p":"b","x":-0.175,"y":0.0009},{"p":"b","x":-0.17,"y":0.0015},{"p":"b","x":-0.165,"y":0.0008},{"p":"b","x":-0.16,"y":0.0012},{"p":"b","x":-0.155,"y":0.001},
{"p":"b","x":-0.15,"y":0.0016},{"p":"b","x":-0.145,"y":0.00095},{"p":"b","x":-0.14,"y":0.0014},{"p":"b","x":-0.135,"y":0.0012},{"p":"b","x":-0.13,"y":0.0019},{"p":"b","x":-0.125,"y":0.0014},{"p":"b","x":-0.12,"y":0.0017},{"p":"b","x":-0.115,"y":0.0016},{"p":"b","x":-0.11,"y":0.0023},{"p":"b","x":-0.105,"y":0.0019},
{"p":"b","x":-0.1,"y":0.0024},{"p":"b","x":-0.095,"y":0.0025},{"p":"b","x":-0.09,"y":0.0031},{"p":"b","x":-0.085,"y":0.003},{"p":"b","x":-0.08,"y":0.0037},{"p":"b","x":-0.075,"y":0.0038},{"p":"b","x":-0.07,"y":0.0047},{"p":"b","x":-0.065,"y":0.0052},{"p":"b","x":-0.06,"y":0.0066},{"p":"b","x":-0.055,"y":0.0085},
{"p":"b","x":-0.05,"y":0.011},{"p":"b","x":-0.045,"y":0.016},{"p":"b","x":-0.04,"y":0.025},{"p":"b","x":-0.035,"y":0.04},{"p":"b","x":-0.03,"y":0.065},{"p":"b","x":-0.025,"y":0.12},{"p":"b","x":-0.02,"y":0.22},{"p":"b","x":-0.015,"y":0.37},{"p":"b","x":-0.01,"y":0.55},{"p":"b","x":-0.005,"y":0.8},
{"p":"b","x":0,"y":0.95},{"p":"b","x":0.005,"y":0.8},{"p":"b","x":0.01,"y":0.56},{"p":"b","x":0.015,"y":0.38},{"p":"b","x":0.02,"y":0.23},{"p":"b","x":0.025,"y":0.13},{"p":"b","x":0.03,"y":0.07},{"p":"b","x":0.035,"y":0.042},{"p":"b","x":0.04,"y":0.026},{"p":"b","x":0.045,"y":0.017},
{"p":"b","x":0.05,"y":0.011},{"p":"b","x":0.055,"y":0.0085},{"p":"b","x":0.06,"y":0.0067},{"p":"b","x":0.065,"y":0.0052},{"p":"b","x":0.07,"y":0.0047},{"p":"b","x":0.075,"y":0.0036},{"p":"b","x":0.08,"y":0.0038},{"p":"b","x":0.085,"y":0.0028},{"p":"b","x":0.09,"y":0.003},{"p":"b","x":0.095,"y":0.0021},
{"p":"b","x":0.1,"y":0.0025},{"p":"b","x":0.105,"y":0.0017},{"p":"b","x":0.11,"y":0.0021},{"p":"b","x":0.115,"y":0.0014},{"p":"b","x":0.12,"y":0.0018},{"p":"b","x":0.125,"y":0.0012},{"p":"b","x":0.13,"y":0.0016},{"p":"b","x":0.135,"y":0.001},{"p":"b","x":0.14,"y":0.0014},{"p":"b","x":0.145,"y":0.00085},
{"p":"b","x":0.15,"y":0.0012},{"p":"b","x":0.155,"y":0.00075},{"p":"b","x":0.16,"y":0.0011},{"p":"b","x":0.165,"y":0.0007},{"p":"b","x":0.17,"y":0.001},{"p":"b","x":0.175,"y":0.00055},{"p":"b","x":0.18,"y":0.00017},{"p":"b","x":0.185,"y":0.0009},{"p":"b","x":0.19,"y":0.0006},{"p":"b","x":0.195,"y":0.00095},
{"p":"b","x":0.2,"y":0.0005},{"p":"b","x":0.205,"y":0.00085},{"p":"b","x":0.21,"y":0.0006},{"p":"b","x":0.215,"y":0.0009},{"p":"b","x":0.22,"y":0.00045},{"p":"b","x":0.225,"y":0.0008},{"p":"b","x":0.23,"y":0.00065},{"p":"b","x":0.235,"y":0.0011},{"p":"b","x":0.24,"y":0.0022},{"p":"b","x":0.245,"y":0.0036},
{"p":"b","x":0.25,"y":0.0012},{"p":"b","x":0.255,"y":0.00045},{"p":"b","x":0.26,"y":0.0007},{"p":"b","x":0.265,"y":0.00035},{"p":"b","x":0.27,"y":0.0006},{"p":"b","x":0.275,"y":0.00042},{"p":"b","x":0.28,"y":0.00075},{"p":"b","x":0.285,"y":0.0003},{"p":"b","x":0.29,"y":0.00062},{"p":"b","x":0.295,"y":0.0004},
{"p":"b","x":0.3,"y":0.0007},{"p":"b","x":0.305,"y":0.00028},{"p":"b","x":0.31,"y":0.0006},{"p":"b","x":0.315,"y":0.00045},{"p":"b","x":0.32,"y":0.00072},{"p":"b","x":0.325,"y":0.00033},{"p":"b","x":0.33,"y":0.00058},{"p":"b","x":0.335,"y":0.000037},{"p":"b","x":0.34,"y":0.0006},{"p":"b","x":0.345,"y":0.00038},
{"p":"b","x":0.35,"y":0.00075},{"p":"b","x":0.355,"y":0.0003},{"p":"b","x":0.36,"y":0.00055},{"p":"b","x":0.365,"y":0.00042},{"p":"b","x":0.37,"y":0.0008},{"p":"b","x":0.375,"y":0.00025},{"p":"b","x":0.38,"y":0.00065},{"p":"b","x":0.385,"y":0.00045},{"p":"b","x":0.39,"y":0.00078},{"p":"b","x":0.395,"y":0.00032},
{"p":"b","x":0.4,"y":0.0006},{"p":"b","x":0.405,"y":0.00022},{"p":"b","x":0.41,"y":0.0007},{"p":"b","x":0.415,"y":0.00048},{"p":"b","x":0.42,"y":0.000028},{"p":"b","x":0.425,"y":0.00062},{"p":"b","x":0.43,"y":0.00035},{"p":"b","x":0.435,"y":0.00075},{"p":"b","x":0.44,"y":0.0004},{"p":"b","x":0.445,"y":0.00068},
{"p":"b","x":0.45,"y":0.00028},{"p":"b","x":0.455,"y":0.00058},{"p":"b","x":0.46,"y":0.00042},{"p":"b","x":0.465,"y":0.0008},{"p":"b","x":0.47,"y":0.00035},{"p":"b","x":0.475,"y":0.00065},{"p":"b","x":0.48,"y":0.0005},{"p":"b","x":0.485,"y":0.00072}
],
"res": [
{"p":"a","x":-0.5,"r":-0.8},{"p":"a","x":-0.495,"r":1.1},{"p":"a","x":-0.49,"r":-0.3},{"p":"a","x":-0.485,"r":0.6},{"p":"a","x":-0.48,"r":-1.2},{"p":"a","x":-0.475,"r":0.2},{"p":"a","x":-0.47,"r":1.4},{"p":"a","x":-0.465,"r":-0.6},{"p":"a","x":-0.46,"r":0.1},{"p":"a","x":-0.455,"r":-1.9},
{"p":"a","x":-0.45,"r":0.9},{"p":"a","x":-0.445,"r":-0.2},{"p":"a","x":-0.44,"r":1.6},{"p":"a","x":-0.435,"r":-1.1},{"p":"a","x":-0.43,"r":0.4},{"p":"a","x":-0.425,"r":-0.5},{"p":"a","x":-0.42,"r":2.8},{"p":"a","x":-0.415,"r":-0.9},{"p":"a","x":-0.41,"r":0.3},{"p":"a","x":-0.405,"r":-1.4},
{"p":"a","x":-0.4,"r":1.2},{"p":"a","x":-0.395,"r":-0.7},{"p":"a","x":-0.39,"r":0.5},{"p":"a","x":-0.385,"r":-2.1},{"p":"a","x":-0.38,"r":0.8},{"p":"a","x":-0.375,"r":1.5},{"p":"a","x":-0.37,"r":-0.4},{"p":"a","x":-0.365,"r":0.2},{"p":"a","x":-0.36,"r":-1.0},{"p":"a","x":-0.355,"r":1.9},
{"p":"a","x":-0.35,"r":-0.3},{"p":"a","x":-0.345,"r":0.7},{"p":"a","x":-0.34,"r":-1.5},{"p":"a","x":-0.335,"r":2.5},{"p":"a","x":-0.33,"r":-0.6},{"p":"a","x":-0.325,"r":0.4},{"p":"a","x":-0.32,"r":-1.2},{"p":"a","x":-0.315,"r":1.1},{"p":"a","x":-0.31,"r":-0.2},{"p":"a","x":-0.305,"r":0.9},
{"p":"a","x":-0.3,"r":-1.6},{"p":"a","x":-0.295,"r":2.6},{"p":"a","x":-0.29,"r":-0.8},{"p":"a","x":-0.285,"r":0.3},{"p":"a","x":-0.28,"r":-2.4},{"p":"a","x":-0.275,"r":1.3},{"p":"a","x":-0.27,"r":0.1},{"p":"a","x":-0.265,"r":-0.9},{"p":"a","x":-0.26,"r":1.7},{"p":"a","x":-0.255,"r":-0.4},
{"p":"a","x":-0.25,"r":0.6},{"p":"a","x":-0.245,"r":-1.3},{"p":"a","x":-0.24,"r":1.0},{"p":"a","x":-0.235,"r":-0.2},{"p":"a","x":-0.23,"r":2.1},{"p":"a","x":-0.225,"r":-0.7},{"p":"a","x":-0.22,"r":0.5},{"p":"a","x":-0.215,"r":-1.8},{"p":"a","x":-0.21,"r":0.8},{"p":"a","x":-0.205,"r":0.2},
{"p":"a","x":-0.2,"r":-1.1},{"p":"a","x":-0.195,"r":1.5},{"p":"a","x":-0.19,"r":-0.4},{"p":"a","x":-0.185,"r":0.9},{"p":"a","x":-0.18,"r":-1.5},{"p":"a","x":-0.175,"r":0.3},{"p":"a","x":-0.17,"r":2.2},{"p":"a","x":-0.165,"r":-0.6},{"p":"a","x":-0.16,"r":0.7},{"p":"a","x":-0.155,"r":-1.0},
{"p":"a","x":-0.15,"r":0.4},{"p":"a","x":-0.145,"r":-0.8},{"p":"a","x":-0.14,"r":1.3},{"p":"a","x":-0.135,"r":-0.3},{"p":"a","x":-0.13,"r":0.6},{"p":"a","x":-0.125,"r":-1.7},{"p":"a","x":-0.12,"r":0.9},{"p":"a","x":-0.115,"r":0.1},{"p":"a","x":-0.11,"r":-0.5},{"p":"a","x":-0.105,"r":1.6},
{"p":"a","x":-0.1,"r":-0.2},{"p":"a","x":-0.095,"r":0.8},{"p":"a","x":-0.09,"r":-1.2},{"p":"a","x":-0.085,"r":0.5},{"p":"a","x":-0.08,"r":-0.6},{"p":"a","x":-0.075,"r":1.1},{"p":"a","x":-0.07,"r":-0.9},{"p":"a","x":-0.065,"r":0.3},{"p":"a","x":-0.06,"r":-0.1},{"p":"a","x":-0.055,"r":1.4},
{"p":"a","x":-0.05,"r":0.7},{"p":"a","x":-0.045,"r":-0.4},{"p":"a","x":-0.04,"r":1.8},{"p":"a","x":-0.035,"r":0.2},{"p":"a","x":-0.03,"r":-0.7},{"p":"a","x":-0.025,"r":1.2},{"p":"a","x":-0.02,"r":0.5},{"p":"a","x":-0.015,"r":-0.3},{"p":"a","x":-0.01,"r":0.9},{"p":"a","x":-0.005,"r":0.1},
{"p":"a","x":0,"r":-0.6},{"p":"a","x":0.005,"r":0.4},{"p":"a","x":0.01,"r":-1.1},{"p":"a","x":0.015,"r":0.2},{"p":"a","x":0.02,"r":-1.5},{"p":"a","x":0.025,"r":0.6},{"p":"a","x":0.03,"r":-0.3},{"p":"a","x":0.035,"r":-2.0},{"p":"a","x":0.04,"r":0.3},{"p":"a","x":0.045,"r":-0.8},
{"p":"a","x":0.05,"r":0.5},{"p":"a","x":0.055,"r":-1.3},{"p":"a","x":0.06,"r":0.9},{"p":"a","x":0.065,"r":-0.4},{"p":"a","x":0.07,"r":1.2},{"p":"a","x":0.075,"r":-0.9},{"p":"a","x":0.08,"r":0.2},{"p":"a","x":0.085,"r":-1.6},{"p":"a","x":0.09,"r":0.7},{"p":"a","x":0.095,"r":-0.2},
{"p":"a","x":0.1,"r":1.0},{"p":"a","x":0.105,"r":-0.5},{"p":"a","x":0.11,"r":0.3},{"p":"a","x":0.115,"r":-1.2},{"p":"a","x":0.12,"r":1.4},{"p":"a","x":0.125,"r":-0.3},{"p":"a","x":0.13,"r":0.6},{"p":"a","x":0.135,"r":-0.8},{"p":"a","x":0.14,"r":0.2},{"p":"a","x":0.145,"r":1.1},
{"p":"a","x":0.15,"r":-0.6},{"p":"a","x":0.155,"r":0.8},{"p":"a","x":0.16,"r":-1.0},{"p":"a","x":0.165,"r":0.4},{"p":"a","x":0.17,"r":1.3},{"p":"a","x":0.175,"r":-0.2},{"p":"a","x":0.18,"r":0.9},{"p":"a","x":0.185,"r":2.4},{"p":"a","x":0.19,"r":0.6},{"p":"a","x":0.195,"r":1.8},
{"p":"a","x":0.2,"r":2.5},{"p":"a","x":0.205,"r":0.7},{"p":"a","x":0.21,"r":1.9},{"p":"a","x":0.215,"r":-0.3},{"p":"a","x":0.22,"r":1.2},{"p":"a","x":0.225,"r":0.5},{"p":"a","x":0.23,"r":-0.8},{"p":"a","x":0.235,"r":1.0},{"p":"a","x":0.24,"r":0.2},{"p":"a","x":0.245,"r":-0.4},
{"p":"a","x":0.25,"r":0.9},{"p":"a","x":0.255,"r":-0.7},{"p":"a","x":0.26,"r":1.3},{"p":"a","x":0.265,"r":-1.4},{"p":"a","x":0.27,"r":0.4},{"p":"a","x":0.275,"r":-0.2},{"p":"a","x":0.28,"r":1.5},{"p":"a","x":0.285,"r":-0.9},{"p":"a","x":0.29,"r":0.6},{"p":"a","x":0.295,"r":0.1},
{"p":"a","x":0.3,"r":-1.0},{"p":"a","x":0.305,"r":0.5},{"p":"a","x":0.31,"r":-0.3},{"p":"a","x":0.315,"r":1.1},{"p":"a","x":0.32,"r":-1.8},{"p":"a","x":0.325,"r":0.3},{"p":"a","x":0.33,"r":0.8},{"p":"a","x":0.335,"r":-0.5},{"p":"a","x":0.34,"r":1.2},{"p":"a","x":0.345,"r":2.8},
{"p":"a","x":0.35,"r":-0.6},{"p":"a","x":0.355,"r":0.2},{"p":"a","x":0.36,"r":-1.1},{"p":"a","x":0.365,"r":0.7},{"p":"a","x":0.37,"r":0.1},{"p":"a","x":0.375,"r":-0.4},{"p":"a","x":0.38,"r":0.9},{"p":"a","x":0.385,"r":-1.3},{"p":"a","x":0.39,"r":0.5},{"p":"a","x":0.395,"r":0.3},
{"p":"a","x":0.4,"r":-0.2},{"p":"a","x":0.405,"r":1.0},{"p":"a","x":0.41,"r":-0.7},{"p":"a","x":0.415,"r":0.4},{"p":"a","x":0.42,"r":-1.2},{"p":"a","x":0.425,"r":1.4},{"p":"a","x":0.43,"r":0.2},{"p":"a","x":0.435,"r":-0.5},{"p":"a","x":0.44,"r":0.8},{"p":"a","x":0.445,"r":-0.9},
{"p":"a","x":0.45,"r":0.6},{"p":"a","x":0.455,"r":-1.5},{"p":"a","x":0.46,"r":1.1},{"p":"a","x":0.465,"r":-0.3},{"p":"a","x":0.47,"r":0.7},{"p":"a","x":0.475,"r":-1.7},{"p":"a","x":0.48,"r":0.4},{"p":"a","x":0.485,"r":1.2},{"p":"a","x":0.49,"r":-0.6},{"p":"a","x":0.495,"r":0.3},
{"p":"a","x":0.5,"r":-1.0},
{"p":"b","x":-0.5,"r":-2.6},{"p":"b","x":-0.495,"r":-0.5},{"p":"b","x":-0.49,"r":0.3},{"p":"b","x":-0.485,"r":-1.4},{"p":"b","x":-0.48,"r":0.8},{"p":"b","x":-0.475,"r":-0.2},{"p":"b","x":-0.47,"r":1.2},{"p":"b","x":-0.465,"r":-0.9},{"p":"b","x":-0.46,"r":0.5},{"p":"b","x":-0.455,"r":-1.8},
{"p":"b","x":-0.45,"r":0.4},{"p":"b","x":-0.445,"r":1.3},{"p":"b","x":-0.44,"r":-0.6},{"p":"b","x":-0.435,"r":0.9},{"p":"b","x":-0.43,"r":-1.1},{"p":"b","x":-0.425,"r":2.8},{"p":"b","x":-0.42,"r":0.2},{"p":"b","x":-0.415,"r":-0.7},{"p":"b","x":-0.41,"r":1.0},{"p":"b","x":-0.405,"r":-0.3},
{"p":"b","x":-0.4,"r":0.6},{"p":"b","x":-0.395,"r":-1.5},{"p":"b","x":-0.39,"r":1.1},{"p":"b","x":-0.385,"r":0.3},{"p":"b","x":-0.38,"r":-0.8},{"p":"b","x":-0.375,"r":1.4},{"p":"b","x":-0.37,"r":-0.2},{"p":"b","x":-0.365,"r":0.7},{"p":"b","x":-0.36,"r":-1.2},{"p":"b","x":-0.355,"r":0.5},
{"p":"b","x":-0.35,"r":1.8},{"p":"b","x":-0.345,"r":-0.4},{"p":"b","x":-0.34,"r":2.1},{"p":"b","x":-0.335,"r":0.6},{"p":"b","x":-0.33,"r":-0.9},{"p":"b","x":-0.325,"r":1.5},{"p":"b","x":-0.32,"r":0.2},{"p":"b","x":-0.315,"r":-1.6},{"p":"b","x":-0.31,"r":0.8},{"p":"b","x":-0.305,"r":1.9},
{"p":"b","x":-0.3,"r":-0.3},{"p":"b","x":-0.295,"r":1.2},{"p":"b","x":-0.29,"r":-1.0},{"p":"b","x":-0.285,"r":0.5},{"p":"b","x":-0.28,"r":1.7},{"p":"b","x":-0.275,"r":-0.6},{"p":"b","x":-0.27,"r":0.9},{"p":"b","x":-0.265,"r":-1.3},{"p":"b","x":-0.26,"r":0.3},{"p":"b","x":-0.255,"r":1.4},
{"p":"b","x":-0.25,"r":0.2},{"p":"b","x":-0.245,"r":2.8},{"p":"b","x":-0.24,"r":-0.5},{"p":"b","x":-0.235,"r":1.9},{"p":"b","x":-0.23,"r":0.4},{"p":"b","x":-0.225,"r":1.2},{"p":"b","x":-0.22,"r":-0.8},{"p":"b","x":-0.215,"r":2.2},{"p":"b","x":-0.21,"r":0.6},{"p":"b","x":-0.205,"r":-0.3},
{"p":"b","x":-0.2,"r":1.0},{"p":"b","x":-0.195,"r":-1.2},{"p":"b","x":-0.19,"r":0.7},{"p":"b","x":-0.185,"r":2.0},{"p":"b","x":-0.18,"r":-0.4},{"p":"b","x":-0.175,"r":0.9},{"p":"b","x":-0.17,"r":-1.5},{"p":"b","x":-0.165,"r":0.5},{"p":"b","x":-0.16,"r":1.3},{"p":"b","x":-0.155,"r":-0.7},
{"p":"b","x":-0.15,"r":0.3},{"p":"b","x":-0.145,"r":-1.0},{"p":"b","x":-0.14,"r":1.1},{"p":"b","x":-0.135,"r":-0.5},{"p":"b","x":-0.13,"r":0.6},{"p":"b","x":-0.125,"r":-1.9},{"p":"b","x":-0.12,"r":0.2},{"p":"b","x":-0.115,"r":0.8},{"p":"b","x":-0.11,"r":-1.3},{"p":"b","x":-0.105,"r":0.4},
{"p":"b","x":-0.1,"r":-0.8},{"p":"b","x":-0.095,"r":1.5},{"p":"b","x":-0.09,"r":-0.3},{"p":"b","x":-0.085,"r":0.6},{"p":"b","x":-0.08,"r":-1.7},{"p":"b","x":-0.075,"r":0.2},{"p":"b","x":-0.07,"r":-0.6},{"p":"b","x":-0.065,"r":1.0},{"p":"b","x":-0.06,"r":-2.0},{"p":"b","x":-0.055,"r":0.4},
{"p":"b","x":-0.05,"r":1.2},{"p":"b","x":-0.045,"r":-0.5},{"p":"b","x":-0.04,"r":2.1},{"p":"b","x":-0.035,"r":0.3},{"p":"b","x":-0.03,"r":-0.9},{"p":"b","x":-0.025,"r":1.6},{"p":"b","x":-0.02,"r":-0.2},{"p":"b","x":-0.015,"r":0.8},{"p":"b","x":-0.01,"r":-1.1},{"p":"b","x":-0.005,"r":-2.3},
{"p":"b","x":0,"r":-2.7},{"p":"b","x":0.005,"r":0.5},{"p":"b","x":0.01,"r":-1.8},{"p":"b","x":0.015,"r":1.4},{"p":"b","x":0.02,"r":-0.6},{"p":"b","x":0.025,"r":0.9},{"p":"b","x":0.03,"r":-2.5},{"p":"b","x":0.035,"r":0.3},{"p":"b","x":0.04,"r":1.1},{"p":"b","x":0.045,"r":-0.4},
{"p":"b","x":0.05,"r":0.8},{"p":"b","x":0.055,"r":-1.0},{"p":"b","x":0.06,"r":1.9},{"p":"b","x":0.065,"r":-0.3},{"p":"b","x":0.07,"r":0.6},{"p":"b","x":0.075,"r":-1.4},{"p":"b","x":0.08,"r":0.2},{"p":"b","x":0.085,"r":1.2},{"p":"b","x":0.09,"r":-0.7},{"p":"b","x":0.095,"r":0.4},
{"p":"b","x":0.1,"r":-1.6},{"p":"b","x":0.105,"r":0.3},{"p":"b","x":0.11,"r":1.0},{"p":"b","x":0.115,"r":-0.8},{"p":"b","x":0.12,"r":0.5},{"p":"b","x":0.125,"r":-2.0},{"p":"b","x":0.13,"r":0.1},{"p":"b","x":0.135,"r":0.9},{"p":"b","x":0.14,"r":-0.5},{"p":"b","x":0.145,"r":1.3},
{"p":"b","x":0.15,"r":-0.2},{"p":"b","x":0.155,"r":0.7},{"p":"b","x":0.16,"r":-1.1},{"p":"b","x":0.165,"r":1.6},{"p":"b","x":0.17,"r":0.2},{"p":"b","x":0.175,"r":-0.6},{"p":"b","x":0.18,"r":1.2},{"p":"b","x":0.185,"r":-0.9},{"p":"b","x":0.19,"r":0.4},{"p":"b","x":0.195,"r":0.8},
{"p":"b","x":0.2,"r":-0.5},{"p":"b","x":0.205,"r":1.1},{"p":"b","x":0.21,"r":-0.2},{"p":"b","x":0.215,"r":0.6},{"p":"b","x":0.22,"r":-1.3},{"p":"b","x":0.225,"r":1.7},{"p":"b","x":0.23,"r":0.3},{"p":"b","x":0.235,"r":-0.7},{"p":"b","x":0.24,"r":0.9},{"p":"b","x":0.245,"r":0.1},
{"p":"b","x":0.25,"r":-1.0},{"p":"b","x":0.255,"r":0.5},{"p":"b","x":0.26,"r":1.4},{"p":"b","x":0.265,"r":-0.4},{"p":"b","x":0.27,"r":0.8},{"p":"b","x":0.275,"r":-1.5},{"p":"b","x":0.28,"r":0.2},{"p":"b","x":0.285,"r":1.0},{"p":"b","x":0.29,"r":-0.6},{"p":"b","x":0.295,"r":0.4},
{"p":"b","x":0.3,"r":1.2},{"p":"b","x":0.305,"r":-0.3},{"p":"b","x":0.31,"r":0.7},{"p":"b","x":0.315,"r":-0.9},{"p":"b","x":0.32,"r":1.5},{"p":"b","x":0.325,"r":0.2},{"p":"b","x":0.33,"r":-0.5},{"p":"b","x":0.335,"r":1.1},{"p":"b","x":0.34,"r":-1.2},{"p":"b","x":0.345,"r":0.6},
{"p":"b","x":0.35,"r":-0.4},{"p":"b","x":0.355,"r":0.9},{"p":"b","x":0.36,"r":-1.0},{"p":"b","x":0.365,"r":0.3},{"p":"b","x":0.37,"r":1.3},{"p":"b","x":0.375,"r":-0.7},{"p":"b","x":0.38,"r":0.5},{"p":"b","x":0.385,"r":-1.4},{"p":"b","x":0.39,"r":0.8},{"p":"b","x":0.395,"r":0.1},
{"p":"b","x":0.4,"r":0.6},{"p":"b","x":0.405,"r":-0.8},{"p":"b","x":0.41,"r":1.0},{"p":"b","x":0.415,"r":-0.3},{"p":"b","x":0.42,"r":1.7},{"p":"b","x":0.425,"r":0.4},{"p":"b","x":0.43,"r":-1.2},{"p":"b","x":0.435,"r":2.2},{"p":"b","x":0.44,"r":0.2},{"p":"b","x":0.445,"r":-0.6},
{"p":"b","x":0.45,"r":1.1},{"p":"b","x":0.455,"r":-0.5},{"p":"b","x":0.46,"r":0.7},{"p":"b","x":0.465,"r":-1.1},{"p":"b","x":0.47,"r":0.4},{"p":"b","x":0.475,"r":1.3},{"p":"b","x":0.48,"r":-0.3},{"p":"b","x":0.485,"r":0.6},{"p":"b","x":0.49,"r":-0.9},{"p":"b","x":0.495,"r":0.2},
{"p":"b","x":0.5,"r":0.3}
],
"ann": [
{"p":"a","x":0.205,"y":0.82,"t":"Q = 1.03 Å"},{"p":"a","x":0.205,"y":0.33,"t":"χ² = 0.722"},
{"p":"b","x":0.197,"y":0.82,"t":"Q = 1.34 Å"},{"p":"b","x":0.2,"y":0.33,"t":"χ² = 0.772"}
],
"lbl": [
{"p":"a","x":-0.655,"y":2.58,"t":"(a)"},{"p":"b","x":-0.655,"y":2.58,"t":"(b)"}
]
},
"spacing": 4,
"resolve": {"scale": {"fill": "independent", "stroke": "independent"}, "legend": {"fill": "independent", "stroke": "independent"}},
"hconcat": [
{"spacing": 2, "vconcat": [
 {"width": 353, "height": 378,
  "resolve": {"axis": {"x": "independent", "y": "independent"}},
  "layer": [
   {"data": {"name": "pts"}, "transform": [{"filter": "datum.p == 'a'"}],
    "mark": {"type": "point", "filled": true, "size": 120, "opacity": 1, "clip": true, "shape": "circle"},
    "encoding": {
     "x": {"field": "x", "type": "quantitative", "scale": {"domain": [-0.5, 0.5], "nice": false, "zero": false}, "axis": {"orient": "bottom", "values": [-0.4,-0.3,-0.2,-0.1,0,0.1,0.2,0.3,0.4], "labels": false, "tickSize": -5, "title": null, "zindex": 1}},
     "y": {"field": "y", "type": "quantitative", "scale": {"type": "log", "domain": [0.000011, 4.15], "nice": false}, "axis": {"orient": "left", "values": [0.0001,0.001,0.01,0.1,1], "ticks": false, "labelExpr": "datum.value >= 0.01 ? toString(datum.value) : '1E' + round(log(datum.value) / LN10)", "title": "S(Q,ω)", "titleFontSize": 24, "titlePadding": 5, "titleY": 198}},
     "fill": {"datum": "Na-Hec-CO₂- Hydrated", "type": "nominal", "scale": {"domain": ["Na-Hec-CO₂- Hydrated"], "range": ["#800000"]}, "legend": {"orient": "none", "legendX": 24, "legendY": 6, "title": null, "symbolType": "circle", "symbolSize": 120, "symbolStrokeWidth": 0, "labelOffset": 20}}
    }},
   {"data": {"name": "crv"}, "transform": [{"filter": "datum.p == 'a' && datum.s != 'Fit'"}],
    "mark": {"type": "line", "strokeWidth": 1.5, "clip": true},
    "encoding": {
     "x": {"field": "x", "type": "quantitative", "scale": {"domain": [-0.5, 0.5], "nice": false, "zero": false}, "axis": {"orient": "top", "values": [-0.4,-0.3,-0.2,-0.1,0,0.1,0.2,0.3,0.4], "labels": false, "tickSize": -5, "title": null, "zindex": 1}},
     "y": {"field": "y", "type": "quantitative", "scale": {"type": "log", "domain": [0.000011, 4.15], "nice": false}, "axis": {"orient": "left", "values": [0.00002,0.00004,0.00006,0.00008,0.0001,0.0002,0.0004,0.0006,0.0008,0.001,0.002,0.004,0.006,0.008,0.01,0.02,0.04,0.06,0.08,0.1,0.2,0.4,0.6,0.8,1,2,4], "labels": false, "title": null, "zindex": 1, "tickSize": {"condition": {"test": "indexof([0.0001,0.001,0.01,0.1,1], datum.value) >= 0", "value": -6}, "value": -3}}},
     "stroke": {"field": "s", "type": "nominal", "scale": {"domain": ["Fit","Delta","Γ₁","Γ₂","BG"], "range": ["#FF00FF","#008000","#8000FF","#FF8000","#000080"]}, "legend": {"orient": "none", "legendX": 7, "legendY": 35, "title": null, "symbolType": "stroke", "symbolSize": 1936, "symbolStrokeWidth": 2, "clipHeight": 20, "rowPadding": 7, "labelOffset": 5}}
    }},
   {"data": {"name": "dlt"}, "transform": [{"filter": "datum.p == 'a'"}],
    "mark": {"type": "line", "strokeWidth": 1.5, "clip": true},
    "encoding": {
     "x": {"field": "x", "type": "quantitative", "scale": {"domain": [-0.5, 0.5], "nice": false, "zero": false}, "axis": null},
     "y": {"field": "y", "type": "quantitative", "scale": {"type": "log", "domain": [0.000011, 4.15], "nice": false}, "axis": {"orient": "right", "values": [0.00002,0.00004,0.00006,0.00008,0.0001,0.0002,0.0004,0.0006,0.0008,0.001,0.002,0.004,0.006,0.008,0.01,0.02,0.04,0.06,0.08,0.1,0.2,0.4,0.6,0.8,1,2,4], "labels": false, "title": null, "zindex": 1, "tickSize": {"condition": {"test": "indexof([0.0001,0.001,0.01,0.1,1], datum.value) >= 0", "value": -6}, "value": -3}}},
     "stroke": {"datum": "Delta", "type": "nominal", "scale": {"domain": ["Fit","Delta","Γ₁","Γ₂","BG"], "range": ["#FF00FF","#008000","#8000FF","#FF8000","#000080"]}}
    }},
   {"data": {"name": "crv"}, "transform": [{"filter": "datum.p == 'a' && datum.s == 'Fit'"}],
    "mark": {"type": "line", "strokeWidth": 2, "clip": true},
    "encoding": {
     "x": {"field": "x", "type": "quantitative", "scale": {"domain": [-0.5, 0.5], "nice": false, "zero": false}, "axis": null},
     "y": {"field": "y", "type": "quantitative", "scale": {"type": "log", "domain": [0.000011, 4.15], "nice": false}, "axis": null},
     "stroke": {"field": "s", "type": "nominal", "scale": {"domain": ["Fit","Delta","Γ₁","Γ₂","BG"], "range": ["#FF00FF","#008000","#8000FF","#FF8000","#000080"]}}
    }},
   {"data": {"name": "ann"}, "transform": [{"filter": "datum.p == 'a'"}],
    "mark": {"type": "text", "align": "left", "baseline": "middle", "fontSize": 19, "font": "Liberation Sans", "color": "black"},
    "encoding": {
     "x": {"field": "x", "type": "quantitative", "scale": {"domain": [-0.5, 0.5], "nice": false, "zero": false}, "axis": null},
     "y": {"field": "y", "type": "quantitative", "scale": {"type": "log", "domain": [0.000011, 4.15], "nice": false}, "axis": null},
     "text": {"field": "t"}
    }},
   {"data": {"name": "lbl"}, "transform": [{"filter": "datum.p == 'a'"}],
    "mark": {"type": "text", "align": "left", "baseline": "middle", "fontSize": 23, "font": "Liberation Sans", "color": "black"},
    "encoding": {
     "x": {"field": "x", "type": "quantitative", "scale": {"domain": [-0.5, 0.5], "nice": false, "zero": false}, "axis": null},
     "y": {"field": "y", "type": "quantitative", "scale": {"type": "log", "domain": [0.000011, 4.15], "nice": false}, "axis": null},
     "text": {"field": "t"}
    }}
  ]},
 {"width": 353, "height": 116,
  "resolve": {"axis": {"x": "independent", "y": "independent"}},
  "layer": [
   {"data": {"name": "res"}, "transform": [{"filter": "datum.p == 'a'"}],
    "mark": {"type": "line", "color": "black", "strokeWidth": 1, "clip": true},
    "encoding": {
     "x": {"field": "x", "type": "quantitative", "scale": {"domain": [-0.5, 0.5], "nice": false, "zero": false}, "axis": {"orient": "bottom", "values": [-0.4,-0.2,0,0.2,0.4], "ticks": false, "labelPadding": 9, "labelExpr": "(datum.value < 0 ? '-' : '') + format(abs(datum.value), '.1f')", "title": "Energy Transfer (meV)", "titleFontSize": 25, "titlePadding": 2, "titleX": 163}},
     "y": {"field": "r", "type": "quantitative", "scale": {"domain": [-3, 3], "nice": false, "zero": false}, "axis": {"orient": "left", "values": [-2,0,2], "ticks": false, "labelExpr": "(datum.value < 0 ? '-' : '') + abs(datum.value)", "title": "Residuals", "titleFontSize": 22, "titlePadding": 14}}
    }},
   {"data": {"name": "res"}, "transform": [{"filter": "datum.p == 'a'"}],
    "mark": {"type": "line", "opacity": 0},
    "encoding": {
     "x": {"field": "x", "type": "quantitative", "scale": {"domain": [-0.5, 0.5], "nice": false, "zero": false}, "axis": {"orient": "bottom", "values": [-0.4,-0.3,-0.2,-0.1,0,0.1,0.2,0.3,0.4], "labels": false, "tickSize": -5, "title": null, "zindex": 1}},
     "y": {"field": "r", "type": "quantitative", "scale": {"domain": [-3, 3], "nice": false, "zero": false}, "axis": {"orient": "left", "values": [-2,0,2], "labels": false, "tickSize": -5, "title": null, "zindex": 1}}
    }},
   {"data": {"name": "res"}, "transform": [{"filter": "datum.p == 'a'"}],
    "mark": {"type": "line", "opacity": 0},
    "encoding": {
     "x": {"field": "x", "type": "quantitative", "scale": {"domain": [-0.5, 0.5], "nice": false, "zero": false}, "axis": {"orient": "top", "values": [-0.4,-0.3,-0.2,-0.1,0,0.1,0.2,0.3,0.4], "labels": false, "tickSize": -5, "title": null, "zindex": 1}},
     "y": {"field": "r", "type": "quantitative", "scale": {"domain": [-3, 3], "nice": false, "zero": false}, "axis": {"orient": "right", "values": [-2,0,2], "labels": false, "tickSize": -5, "title": null, "zindex": 1}}
    }}
  ]}
]},
{"spacing": 2, "vconcat": [
 {"width": 347, "height": 378,
  "view": {"stroke": null},
  "resolve": {"axis": {"x": "independent", "y": "independent"}},
  "layer": [
   {"data": {"name": "pts"}, "transform": [{"filter": "datum.p == 'b'"}],
    "mark": {"type": "point", "filled": true, "size": 120, "opacity": 1, "clip": true, "shape": "circle"},
    "encoding": {
     "x": {"field": "x", "type": "quantitative", "scale": {"domain": [-0.5, 0.483], "nice": false, "zero": false}, "axis": {"orient": "bottom", "values": [-0.4,-0.3,-0.2,-0.1,0,0.1,0.2,0.3,0.4], "labels": false, "tickSize": -5, "title": null, "domain": true, "zindex": 1}},
     "y": {"field": "y", "type": "quantitative", "scale": {"type": "log", "domain": [0.000011, 4.15], "nice": false}, "axis": {"orient": "left", "values": [0.0001,0.001,0.01,0.1,1], "ticks": false, "labelExpr": "datum.value >= 0.01 ? toString(datum.value) : '1E' + round(log(datum.value) / LN10)", "title": "S(Q,ω)", "titleFontSize": 24, "titlePadding": 5, "titleY": 198}},
     "fill": {"datum": "Na-Hec-CO₂- Hydrated", "type": "nominal", "scale": {"domain": ["Na-Hec-CO₂- Hydrated"], "range": ["#800000"]}, "legend": {"orient": "none", "legendX": 24, "legendY": 6, "title": null, "symbolType": "circle", "symbolSize": 120, "symbolStrokeWidth": 0, "labelOffset": 20}}
    }},
   {"data": {"name": "crv"}, "transform": [{"filter": "datum.p == 'b' && datum.s != 'Fit'"}],
    "mark": {"type": "line", "strokeWidth": 1.5, "clip": true},
    "encoding": {
     "x": {"field": "x", "type": "quantitative", "scale": {"domain": [-0.5, 0.483], "nice": false, "zero": false}, "axis": {"orient": "top", "values": [-0.4,-0.3,-0.2,-0.1,0,0.1,0.2,0.3,0.4], "labels": false, "tickSize": -5, "title": null, "domain": true, "zindex": 1}},
     "y": {"field": "y", "type": "quantitative", "scale": {"type": "log", "domain": [0.000011, 4.15], "nice": false}, "axis": {"orient": "left", "values": [0.00002,0.00004,0.00006,0.00008,0.0001,0.0002,0.0004,0.0006,0.0008,0.001,0.002,0.004,0.006,0.008,0.01,0.02,0.04,0.06,0.08,0.1,0.2,0.4,0.6,0.8,1,2,4], "labels": false, "title": null, "domain": true, "zindex": 1, "tickSize": {"condition": {"test": "indexof([0.0001,0.001,0.01,0.1,1], datum.value) >= 0", "value": -6}, "value": -3}}},
     "stroke": {"field": "s", "type": "nominal", "scale": {"domain": ["Fit","Delta","Γ₁","Γ₂","BG"], "range": ["#FF00FF","#008000","#8000FF","#FF8000","#000080"]}, "legend": {"orient": "none", "legendX": 7, "legendY": 35, "title": null, "symbolType": "stroke", "symbolSize": 1936, "symbolStrokeWidth": 2, "clipHeight": 20, "rowPadding": 7, "labelOffset": 5}}
    }},
   {"data": {"name": "dlt"}, "transform": [{"filter": "datum.p == 'b'"}],
    "mark": {"type": "line", "strokeWidth": 1.5, "clip": true},
    "encoding": {
     "x": {"field": "x", "type": "quantitative", "scale": {"domain": [-0.5, 0.483], "nice": false, "zero": false}, "axis": null},
     "y": {"field": "y", "type": "quantitative", "scale": {"type": "log", "domain": [0.000011, 4.15], "nice": false}, "axis": null},
     "stroke": {"datum": "Delta", "type": "nominal", "scale": {"domain": ["Fit","Delta","Γ₁","Γ₂","BG"], "range": ["#FF00FF","#008000","#8000FF","#FF8000","#000080"]}}
    }},
   {"data": {"name": "crv"}, "transform": [{"filter": "datum.p == 'b' && datum.s == 'Fit'"}],
    "mark": {"type": "line", "strokeWidth": 2, "clip": true},
    "encoding": {
     "x": {"field": "x", "type": "quantitative", "scale": {"domain": [-0.5, 0.483], "nice": false, "zero": false}, "axis": null},
     "y": {"field": "y", "type": "quantitative", "scale": {"type": "log", "domain": [0.000011, 4.15], "nice": false}, "axis": null},
     "stroke": {"field": "s", "type": "nominal", "scale": {"domain": ["Fit","Delta","Γ₁","Γ₂","BG"], "range": ["#FF00FF","#008000","#8000FF","#FF8000","#000080"]}}
    }},
   {"data": {"name": "ann"}, "transform": [{"filter": "datum.p == 'b'"}],
    "mark": {"type": "text", "align": "left", "baseline": "middle", "fontSize": 19, "font": "Liberation Sans", "color": "black"},
    "encoding": {
     "x": {"field": "x", "type": "quantitative", "scale": {"domain": [-0.5, 0.483], "nice": false, "zero": false}, "axis": null},
     "y": {"field": "y", "type": "quantitative", "scale": {"type": "log", "domain": [0.000011, 4.15], "nice": false}, "axis": null},
     "text": {"field": "t"}
    }},
   {"data": {"name": "lbl"}, "transform": [{"filter": "datum.p == 'b'"}],
    "mark": {"type": "text", "align": "left", "baseline": "middle", "fontSize": 23, "font": "Liberation Sans", "color": "black"},
    "encoding": {
     "x": {"field": "x", "type": "quantitative", "scale": {"domain": [-0.5, 0.483], "nice": false, "zero": false}, "axis": null},
     "y": {"field": "y", "type": "quantitative", "scale": {"type": "log", "domain": [0.000011, 4.15], "nice": false}, "axis": null},
     "text": {"field": "t"}
    }}
  ]},
 {"width": 347, "height": 116,
  "view": {"stroke": null},
  "resolve": {"axis": {"x": "independent", "y": "independent"}},
  "layer": [
   {"data": {"name": "res"}, "transform": [{"filter": "datum.p == 'b'"}],
    "mark": {"type": "line", "color": "black", "strokeWidth": 1, "clip": true},
    "encoding": {
     "x": {"field": "x", "type": "quantitative", "scale": {"domain": [-0.5, 0.483], "nice": false, "zero": false}, "axis": {"orient": "bottom", "values": [-0.4,-0.2,0,0.2,0.4], "ticks": false, "labelPadding": 9, "labelExpr": "(datum.value < 0 ? '-' : '') + format(abs(datum.value), '.1f')", "title": "Energy Transfer (meV)", "titleFontSize": 25, "titlePadding": 2, "titleX": 164}},
     "y": {"field": "r", "type": "quantitative", "scale": {"domain": [-3, 3], "nice": false, "zero": false}, "axis": {"orient": "left", "values": [-2,0,2], "ticks": false, "labelExpr": "(datum.value < 0 ? '-' : '') + abs(datum.value)", "title": "Residuals", "titleFontSize": 22, "titlePadding": 14}}
    }},
   {"data": {"name": "res"}, "transform": [{"filter": "datum.p == 'b'"}],
    "mark": {"type": "line", "opacity": 0},
    "encoding": {
     "x": {"field": "x", "type": "quantitative", "scale": {"domain": [-0.5, 0.483], "nice": false, "zero": false}, "axis": {"orient": "bottom", "values": [-0.4,-0.3,-0.2,-0.1,0,0.1,0.2,0.3,0.4], "labels": false, "tickSize": -5, "title": null, "domain": true, "zindex": 1}},
     "y": {"field": "r", "type": "quantitative", "scale": {"domain": [-3, 3], "nice": false, "zero": false}, "axis": {"orient": "left", "values": [-2,0,2], "labels": false, "tickSize": -5, "title": null, "domain": true, "zindex": 1}}
    }},
   {"data": {"name": "res"}, "transform": [{"filter": "datum.p == 'b'"}],
    "mark": {"type": "line", "opacity": 0},
    "encoding": {
     "x": {"field": "x", "type": "quantitative", "scale": {"domain": [-0.5, 0.483], "nice": false, "zero": false}, "axis": {"orient": "top", "values": [-0.4,-0.3,-0.2,-0.1,0,0.1,0.2,0.3,0.4], "labels": false, "tickSize": -5, "title": null, "domain": true, "zindex": 1}},
     "y": {"field": "r", "type": "quantitative", "scale": {"domain": [-3, 3], "nice": false, "zero": false}, "axis": null}
    }}
  ]}
]}
]
}
